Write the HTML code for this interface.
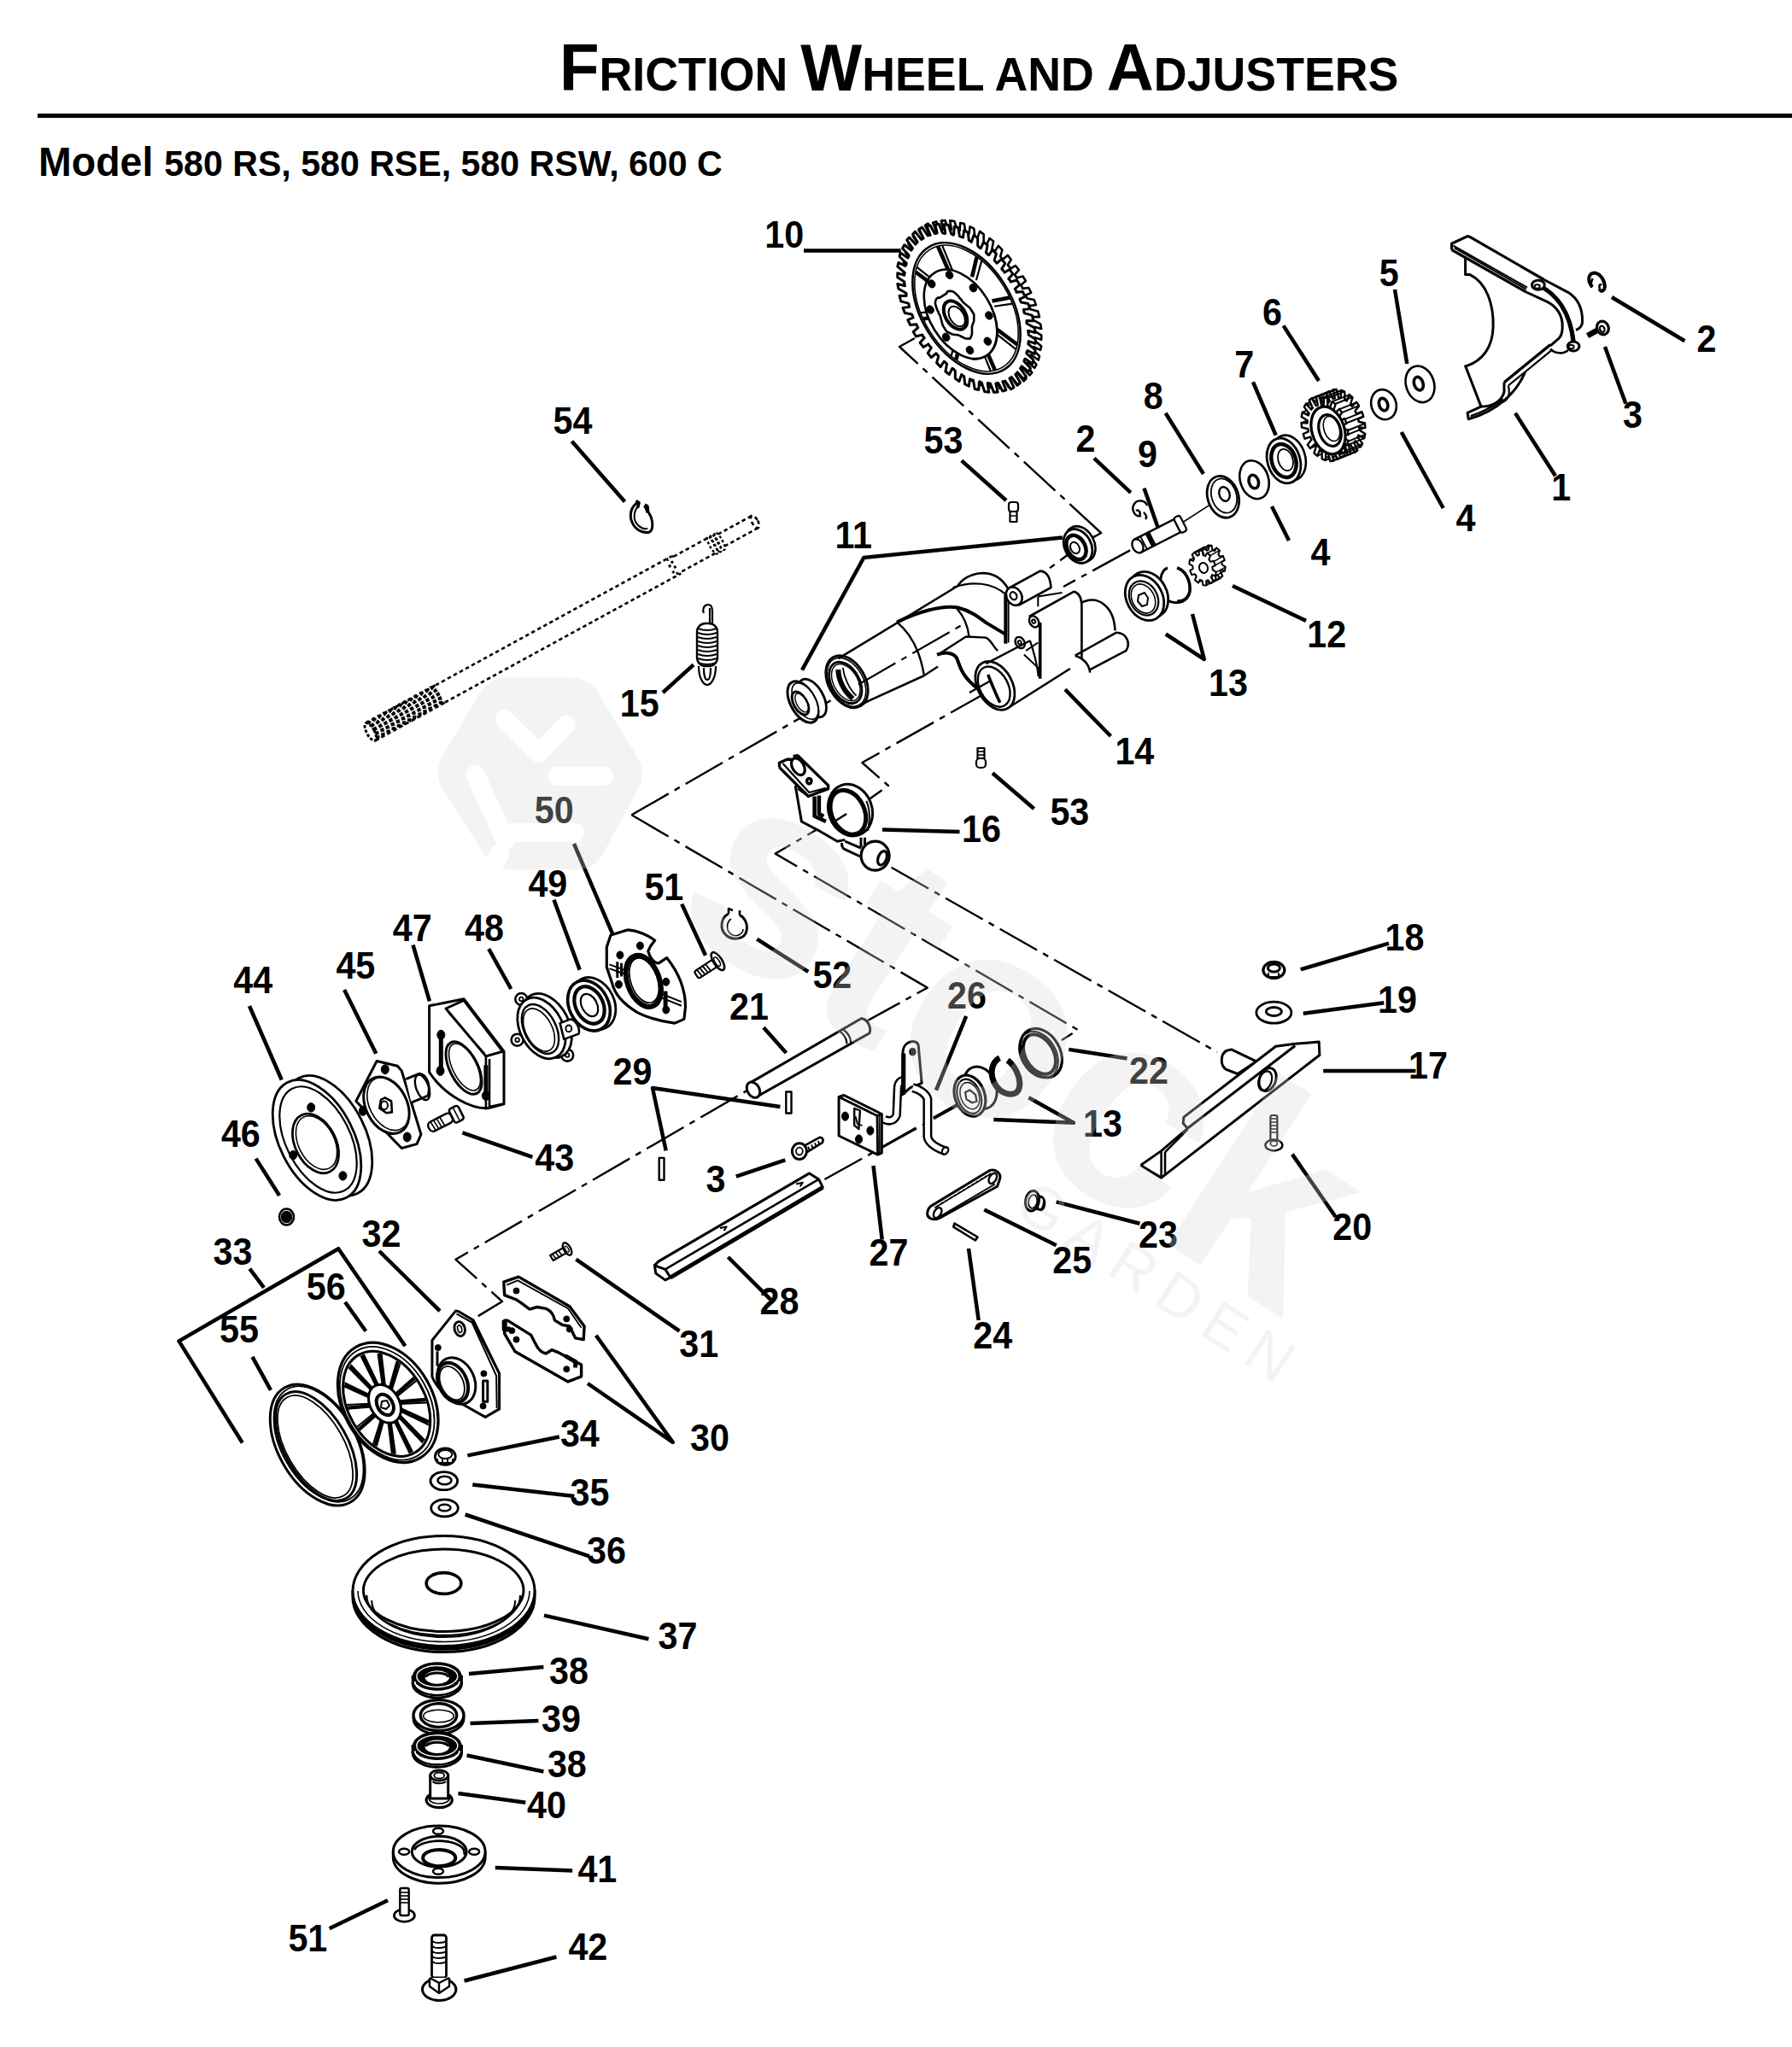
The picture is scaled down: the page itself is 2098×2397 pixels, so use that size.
<!DOCTYPE html>
<html><head><meta charset="utf-8"><style>
html,body{margin:0;padding:0;background:#fff;}
svg{display:block;}
text{stroke:none;font-family:"Liberation Sans",sans-serif;font-weight:bold;font-size:43.5px;}
.d{stroke-dasharray:50 8 7 8;}
.n *{vector-effect:non-scaling-stroke;}
</style></head><body>
<svg xmlns="http://www.w3.org/2000/svg" width="2098" height="2397" viewBox="0 0 2098 2397" stroke="#000" stroke-linecap="butt" stroke-linejoin="round" fill="none">
<rect x="0" y="0" width="2098" height="2397" fill="#fff" stroke="none"/>
<polyline class="d" points="739.4,954.3 1180.0,701.0 1262.0,641.0" stroke-width="2.4" fill="none"/>
<polyline class="d" points="1071.0,396.0 1053.0,406.0 1289.0,624.0 1278.0,630.0" stroke-width="2.4" fill="none"/>
<polyline class="d" points="739.4,954.3 1085.8,1156.6 1015.6,1195.2 533.5,1474.8 588.0,1524.0 555.0,1544.0" stroke-width="2.4" fill="none"/>
<polyline class="d" points="988.6,952.7 907.7,999.6 1262.0,1206.0 1243.0,1218.0" stroke-width="2.4" fill="none"/>
<polyline class="d" points="1043.6,1015.8 1425.0,1232.0" stroke-width="2.4" fill="none"/>
<polyline class="d" points="1156.7,810.0 1009.4,893.0 1040.0,920.0 1016.0,937.0" stroke-width="2.4" fill="none"/>
<polyline class="d" points="965.4,1381.0 1126.0,1292.0" stroke-width="2.4" fill="none"/>
<polyline class="d" points="1323.0,644.4 1245.0,687.0" stroke-width="2.4" fill="none"/>
<g class="n" transform="matrix(57.231,91.589,-57.243,35.770,1138.50,356.50)"><path d="M0.90,0.00 L0.89,0.01 L1.00,0.03 L1.00,0.09 L0.89,0.10 L0.89,0.13 L0.88,0.14 L0.98,0.17 L0.97,0.23 L0.87,0.22 L0.86,0.25 L0.86,0.26 L0.95,0.31 L0.93,0.37 L0.83,0.34 L0.81,0.37 L0.81,0.38 L0.90,0.44 L0.87,0.50 L0.77,0.46 L0.75,0.48 L0.75,0.49 L0.82,0.57 L0.79,0.62 L0.70,0.56 L0.68,0.59 L0.67,0.60 L0.73,0.68 L0.69,0.72 L0.61,0.66 L0.59,0.68 L0.58,0.68 L0.63,0.78 L0.58,0.81 L0.51,0.74 L0.48,0.75 L0.47,0.76 L0.51,0.86 L0.46,0.89 L0.40,0.80 L0.37,0.81 L0.36,0.82 L0.39,0.92 L0.33,0.94 L0.28,0.85 L0.25,0.86 L0.24,0.86 L0.25,0.97 L0.19,0.98 L0.16,0.88 L0.13,0.89 L0.11,0.89 L0.11,0.99 L0.05,1.00 L0.03,0.89 L0.00,0.90 L-0.01,0.89 L-0.03,1.00 L-0.09,1.00 L-0.10,0.89 L-0.13,0.89 L-0.14,0.88 L-0.17,0.98 L-0.23,0.97 L-0.22,0.87 L-0.25,0.86 L-0.26,0.86 L-0.31,0.95 L-0.37,0.93 L-0.34,0.83 L-0.37,0.81 L-0.38,0.81 L-0.44,0.90 L-0.50,0.87 L-0.46,0.77 L-0.48,0.75 L-0.49,0.75 L-0.57,0.82 L-0.62,0.79 L-0.56,0.70 L-0.59,0.68 L-0.60,0.67 L-0.68,0.73 L-0.72,0.69 L-0.66,0.61 L-0.68,0.59 L-0.68,0.58 L-0.78,0.63 L-0.81,0.58 L-0.74,0.51 L-0.75,0.48 L-0.76,0.47 L-0.86,0.51 L-0.89,0.46 L-0.80,0.40 L-0.81,0.37 L-0.82,0.36 L-0.92,0.39 L-0.94,0.33 L-0.85,0.28 L-0.86,0.25 L-0.86,0.24 L-0.97,0.25 L-0.98,0.19 L-0.88,0.16 L-0.89,0.13 L-0.89,0.11 L-0.99,0.11 L-1.00,0.05 L-0.89,0.03 L-0.90,0.00 L-0.89,-0.01 L-1.00,-0.03 L-1.00,-0.09 L-0.89,-0.10 L-0.89,-0.13 L-0.88,-0.14 L-0.98,-0.17 L-0.97,-0.23 L-0.87,-0.22 L-0.86,-0.25 L-0.86,-0.26 L-0.95,-0.31 L-0.93,-0.37 L-0.83,-0.34 L-0.81,-0.37 L-0.81,-0.38 L-0.90,-0.44 L-0.87,-0.50 L-0.77,-0.46 L-0.75,-0.48 L-0.75,-0.49 L-0.82,-0.57 L-0.79,-0.62 L-0.70,-0.56 L-0.68,-0.59 L-0.67,-0.60 L-0.73,-0.68 L-0.69,-0.72 L-0.61,-0.66 L-0.59,-0.68 L-0.58,-0.68 L-0.63,-0.78 L-0.58,-0.81 L-0.51,-0.74 L-0.48,-0.75 L-0.47,-0.76 L-0.51,-0.86 L-0.46,-0.89 L-0.40,-0.80 L-0.37,-0.81 L-0.36,-0.82 L-0.39,-0.92 L-0.33,-0.94 L-0.28,-0.85 L-0.25,-0.86 L-0.24,-0.86 L-0.25,-0.97 L-0.19,-0.98 L-0.16,-0.88 L-0.13,-0.89 L-0.11,-0.89 L-0.11,-0.99 L-0.05,-1.00 L-0.03,-0.89 L-0.00,-0.90 L0.01,-0.89 L0.03,-1.00 L0.09,-1.00 L0.10,-0.89 L0.13,-0.89 L0.14,-0.88 L0.17,-0.98 L0.23,-0.97 L0.22,-0.87 L0.25,-0.86 L0.26,-0.86 L0.31,-0.95 L0.37,-0.93 L0.34,-0.83 L0.37,-0.81 L0.38,-0.81 L0.44,-0.90 L0.50,-0.87 L0.46,-0.77 L0.48,-0.75 L0.49,-0.75 L0.57,-0.82 L0.62,-0.79 L0.56,-0.70 L0.59,-0.68 L0.60,-0.67 L0.68,-0.73 L0.72,-0.69 L0.66,-0.61 L0.68,-0.59 L0.68,-0.58 L0.78,-0.63 L0.81,-0.58 L0.74,-0.51 L0.75,-0.48 L0.76,-0.47 L0.86,-0.51 L0.89,-0.46 L0.80,-0.40 L0.81,-0.37 L0.82,-0.36 L0.92,-0.39 L0.94,-0.33 L0.85,-0.28 L0.86,-0.25 L0.86,-0.24 L0.97,-0.25 L0.98,-0.19 L0.88,-0.16 L0.89,-0.13 L0.89,-0.11 L0.99,-0.11 L1.00,-0.05 L0.89,-0.03 Z" stroke-width="2.6" fill="#fff"/></g>
<g class="n" transform="matrix(57.231,91.589,-57.243,35.770,1131.50,361.00)"><path d="M0.90,0.00 L0.89,0.01 L1.00,0.03 L1.00,0.09 L0.89,0.10 L0.89,0.13 L0.88,0.14 L0.98,0.17 L0.97,0.23 L0.87,0.22 L0.86,0.25 L0.86,0.26 L0.95,0.31 L0.93,0.37 L0.83,0.34 L0.81,0.37 L0.81,0.38 L0.90,0.44 L0.87,0.50 L0.77,0.46 L0.75,0.48 L0.75,0.49 L0.82,0.57 L0.79,0.62 L0.70,0.56 L0.68,0.59 L0.67,0.60 L0.73,0.68 L0.69,0.72 L0.61,0.66 L0.59,0.68 L0.58,0.68 L0.63,0.78 L0.58,0.81 L0.51,0.74 L0.48,0.75 L0.47,0.76 L0.51,0.86 L0.46,0.89 L0.40,0.80 L0.37,0.81 L0.36,0.82 L0.39,0.92 L0.33,0.94 L0.28,0.85 L0.25,0.86 L0.24,0.86 L0.25,0.97 L0.19,0.98 L0.16,0.88 L0.13,0.89 L0.11,0.89 L0.11,0.99 L0.05,1.00 L0.03,0.89 L0.00,0.90 L-0.01,0.89 L-0.03,1.00 L-0.09,1.00 L-0.10,0.89 L-0.13,0.89 L-0.14,0.88 L-0.17,0.98 L-0.23,0.97 L-0.22,0.87 L-0.25,0.86 L-0.26,0.86 L-0.31,0.95 L-0.37,0.93 L-0.34,0.83 L-0.37,0.81 L-0.38,0.81 L-0.44,0.90 L-0.50,0.87 L-0.46,0.77 L-0.48,0.75 L-0.49,0.75 L-0.57,0.82 L-0.62,0.79 L-0.56,0.70 L-0.59,0.68 L-0.60,0.67 L-0.68,0.73 L-0.72,0.69 L-0.66,0.61 L-0.68,0.59 L-0.68,0.58 L-0.78,0.63 L-0.81,0.58 L-0.74,0.51 L-0.75,0.48 L-0.76,0.47 L-0.86,0.51 L-0.89,0.46 L-0.80,0.40 L-0.81,0.37 L-0.82,0.36 L-0.92,0.39 L-0.94,0.33 L-0.85,0.28 L-0.86,0.25 L-0.86,0.24 L-0.97,0.25 L-0.98,0.19 L-0.88,0.16 L-0.89,0.13 L-0.89,0.11 L-0.99,0.11 L-1.00,0.05 L-0.89,0.03 L-0.90,0.00 L-0.89,-0.01 L-1.00,-0.03 L-1.00,-0.09 L-0.89,-0.10 L-0.89,-0.13 L-0.88,-0.14 L-0.98,-0.17 L-0.97,-0.23 L-0.87,-0.22 L-0.86,-0.25 L-0.86,-0.26 L-0.95,-0.31 L-0.93,-0.37 L-0.83,-0.34 L-0.81,-0.37 L-0.81,-0.38 L-0.90,-0.44 L-0.87,-0.50 L-0.77,-0.46 L-0.75,-0.48 L-0.75,-0.49 L-0.82,-0.57 L-0.79,-0.62 L-0.70,-0.56 L-0.68,-0.59 L-0.67,-0.60 L-0.73,-0.68 L-0.69,-0.72 L-0.61,-0.66 L-0.59,-0.68 L-0.58,-0.68 L-0.63,-0.78 L-0.58,-0.81 L-0.51,-0.74 L-0.48,-0.75 L-0.47,-0.76 L-0.51,-0.86 L-0.46,-0.89 L-0.40,-0.80 L-0.37,-0.81 L-0.36,-0.82 L-0.39,-0.92 L-0.33,-0.94 L-0.28,-0.85 L-0.25,-0.86 L-0.24,-0.86 L-0.25,-0.97 L-0.19,-0.98 L-0.16,-0.88 L-0.13,-0.89 L-0.11,-0.89 L-0.11,-0.99 L-0.05,-1.00 L-0.03,-0.89 L-0.00,-0.90 L0.01,-0.89 L0.03,-1.00 L0.09,-1.00 L0.10,-0.89 L0.13,-0.89 L0.14,-0.88 L0.17,-0.98 L0.23,-0.97 L0.22,-0.87 L0.25,-0.86 L0.26,-0.86 L0.31,-0.95 L0.37,-0.93 L0.34,-0.83 L0.37,-0.81 L0.38,-0.81 L0.44,-0.90 L0.50,-0.87 L0.46,-0.77 L0.48,-0.75 L0.49,-0.75 L0.57,-0.82 L0.62,-0.79 L0.56,-0.70 L0.59,-0.68 L0.60,-0.67 L0.68,-0.73 L0.72,-0.69 L0.66,-0.61 L0.68,-0.59 L0.68,-0.58 L0.78,-0.63 L0.81,-0.58 L0.74,-0.51 L0.75,-0.48 L0.76,-0.47 L0.86,-0.51 L0.89,-0.46 L0.80,-0.40 L0.81,-0.37 L0.82,-0.36 L0.92,-0.39 L0.94,-0.33 L0.85,-0.28 L0.86,-0.25 L0.86,-0.24 L0.97,-0.25 L0.98,-0.19 L0.88,-0.16 L0.89,-0.13 L0.89,-0.11 L0.99,-0.11 L1.00,-0.05 L0.89,-0.03 Z" stroke-width="3.0" fill="#fff"/>
<ellipse cx="0" cy="0" rx="0.78" ry="0.78" stroke-width="2.6"/>
<ellipse cx="0" cy="0" rx="0.75" ry="0.75" stroke-width="1.6"/>
<line x1="0.443" y1="0.081" x2="0.735" y2="0.150" stroke-width="4.6"/>
<line x1="0.427" y1="0.142" x2="0.717" y2="0.221" stroke-width="2.2"/>
<line x1="0.256" y1="0.370" x2="0.414" y2="0.626" stroke-width="4.6"/>
<line x1="0.202" y1="0.402" x2="0.351" y2="0.663" stroke-width="2.2"/>
<line x1="-0.081" y1="0.443" x2="-0.150" y2="0.735" stroke-width="4.6"/>
<line x1="-0.142" y1="0.427" x2="-0.221" y2="0.717" stroke-width="2.2"/>
<line x1="-0.370" y1="0.256" x2="-0.626" y2="0.414" stroke-width="4.6"/>
<line x1="-0.402" y1="0.202" x2="-0.663" y2="0.351" stroke-width="2.2"/>
<line x1="-0.443" y1="-0.081" x2="-0.735" y2="-0.150" stroke-width="4.6"/>
<line x1="-0.427" y1="-0.142" x2="-0.717" y2="-0.221" stroke-width="2.2"/>
<line x1="-0.256" y1="-0.370" x2="-0.414" y2="-0.626" stroke-width="4.6"/>
<line x1="-0.202" y1="-0.402" x2="-0.351" y2="-0.663" stroke-width="2.2"/>
<line x1="0.081" y1="-0.443" x2="0.150" y2="-0.735" stroke-width="4.6"/>
<line x1="0.142" y1="-0.427" x2="0.221" y2="-0.717" stroke-width="2.2"/>
<line x1="0.370" y1="-0.256" x2="0.626" y2="-0.414" stroke-width="4.6"/>
<line x1="0.402" y1="-0.202" x2="0.663" y2="-0.351" stroke-width="2.2"/>
</g>
<g class="n" transform="matrix(57.231,91.589,-57.243,35.770,1123.50,366.00)">
<ellipse cx="0.02" cy="0" rx="0.53" ry="0.53" stroke-width="2.6" fill="#fff"/>
<path d="M -0.1,-0.52 A 0.55 0.55 0 0 1 0.5,0.25" stroke-width="1.6"/>
<ellipse cx="0.405" cy="0.196" rx="0.045" ry="0.06" fill="#000" stroke-width="1"/>
<ellipse cx="0.148" cy="0.425" rx="0.045" ry="0.06" fill="#000" stroke-width="1"/>
<ellipse cx="-0.196" cy="0.405" rx="0.045" ry="0.06" fill="#000" stroke-width="1"/>
<ellipse cx="-0.425" cy="0.148" rx="0.045" ry="0.06" fill="#000" stroke-width="1"/>
<ellipse cx="-0.405" cy="-0.196" rx="0.045" ry="0.06" fill="#000" stroke-width="1"/>
<ellipse cx="-0.148" cy="-0.425" rx="0.045" ry="0.06" fill="#000" stroke-width="1"/>
<ellipse cx="0.196" cy="-0.405" rx="0.045" ry="0.06" fill="#000" stroke-width="1"/>
<ellipse cx="0.425" cy="-0.148" rx="0.045" ry="0.06" fill="#000" stroke-width="1"/>
</g>
<g class="n" transform="matrix(57.231,91.589,-57.243,35.770,1118.50,369.00)">
<path d="M0.30,0.00 L0.29,0.03 L0.28,0.05 L0.27,0.07 L0.25,0.09 L0.23,0.11 L0.22,0.12 L0.20,0.14 L0.19,0.16 L0.18,0.18 L0.17,0.20 L0.16,0.22 L0.14,0.24 L0.12,0.26 L0.10,0.28 L0.08,0.28 L0.05,0.28 L0.02,0.28 L0.00,0.27 L-0.02,0.26 L-0.04,0.25 L-0.06,0.24 L-0.08,0.23 L-0.11,0.23 L-0.13,0.22 L-0.15,0.22 L-0.18,0.21 L-0.20,0.20 L-0.22,0.19 L-0.24,0.17 L-0.25,0.15 L-0.26,0.12 L-0.26,0.09 L-0.25,0.07 L-0.25,0.04 L-0.25,0.02 L-0.25,0.00 L-0.25,-0.02 L-0.25,-0.04 L-0.25,-0.07 L-0.26,-0.09 L-0.26,-0.12 L-0.25,-0.15 L-0.24,-0.17 L-0.22,-0.19 L-0.20,-0.20 L-0.18,-0.21 L-0.15,-0.22 L-0.13,-0.22 L-0.11,-0.23 L-0.08,-0.23 L-0.06,-0.24 L-0.04,-0.25 L-0.02,-0.26 L-0.00,-0.27 L0.02,-0.28 L0.05,-0.28 L0.08,-0.28 L0.10,-0.28 L0.12,-0.26 L0.14,-0.24 L0.16,-0.22 L0.17,-0.20 L0.18,-0.18 L0.19,-0.16 L0.20,-0.14 L0.22,-0.12 L0.23,-0.11 L0.25,-0.09 L0.27,-0.07 L0.28,-0.05 L0.29,-0.03 Z" stroke-width="2.6" fill="#fff"/>
<ellipse cx="0" cy="0" rx="0.17" ry="0.17" stroke-width="4" fill="#fff"/>
<ellipse cx="0.02" cy="-0.01" rx="0.12" ry="0.12" stroke-width="2"/>
</g>
<path d="M 978.6,768.4 L 1123.9,684.5 C 1130.9,670.5 1163.7,661.1 1180.2,689.2 L 1217.7,668.1 C 1227.0,669.3 1229.4,677.5 1230.5,688.0 L 1257.5,692.7 C 1264.5,696.2 1265.7,700.9 1266.4,705.6 C 1285.6,696.2 1304.4,710.3 1305.5,738.4 C 1318.4,740.8 1324.3,752.5 1318.4,761.9 L 1276.2,784.1 L 1255.2,783.0 L 1182.5,827.5 L 1154.4,827.5 L 1145.0,805.2 L 1009.1,826.3 Z" stroke-width="0" fill="#fff" />
<ellipse cx="991.5" cy="798.2" rx="32.8" ry="21.6" transform="rotate(61.0 991.5 798.2)" stroke-width="2.8" fill="#fff" />
<ellipse cx="991.0" cy="798.7" rx="30.7" ry="19.7" transform="rotate(61.0 991.0 798.7)" stroke-width="1.6" fill="none" />
<ellipse cx="989.8" cy="799.4" rx="26.2" ry="16.4" transform="rotate(61.0 989.8 799.4)" stroke-width="2.8" fill="none" />
<ellipse cx="990.3" cy="799.1" rx="23.4" ry="14.1" transform="rotate(61.0 990.3 799.1)" stroke-width="1.4" fill="none" />
<path d="M 981.4,784.1 C 981.4,794.7 986.8,808.7 998.5,818.1" stroke-width="6" fill="none" />
<path d="M 986.8,781.8 C 988.0,792.3 993.8,806.4 1002.5,814.6" stroke-width="1.8" fill="none" />
<path d="M 981.4,771.2 L 1123.9,684.5" stroke-width="2.6" fill="none" />
<path d="M 1007.2,825.2 L 1081.7,791.2" stroke-width="2.6" fill="none" />
<path d="M 1081.7,791.2 L 1098.1,780.6" stroke-width="2.4" fill="none" />
<path d="M 1121.6,685.7 C 1130.9,670.5 1163.7,661.1 1180.2,689.2" stroke-width="2.6" fill="none" />
<path d="M 1115.7,688.0 C 1138.0,679.8 1161.4,682.2 1177.8,696.2" stroke-width="2.2" fill="none" />
<path d="M 1050.1,728.6 C 1072.3,717.3 1102.8,708.0 1121.6,711.5 C 1135.6,715.0 1145.0,722.0 1154.4,729.1 L 1177.8,743.1" stroke-width="4" fill="none" />
<path d="M 1050.1,728.6 C 1065.3,740.8 1077.0,761.9 1081.7,790.0" stroke-width="2.4" fill="none" />
<path d="M 1120.4,712.7 C 1128.6,722.0 1133.3,733.7 1134.5,745.5" stroke-width="2.4" fill="none" />
<path d="M 1097.0,766.6 C 1107.5,763.0 1116.9,764.2 1120.4,771.2 C 1123.9,780.6 1126.2,792.3 1145.0,806.4" stroke-width="4" fill="none" />
<path d="M 1098.1,766.6 L 1130.9,745.5 L 1154.4,746.6 C 1161.4,750.2 1163.7,759.5 1168.4,761.9" stroke-width="2.4" fill="none" />
<path d="M 1182.5,688.0 L 1217.7,668.6 C 1227.0,669.3 1229.4,677.5 1230.5,688.0 L 1191.9,709.1" stroke-width="2.6" fill="#fff" />
<ellipse cx="1187.2" cy="698.1" rx="11.2" ry="8.9" transform="rotate(61.0 1187.2 698.1)" stroke-width="2.6" fill="#fff" />
<ellipse cx="1186.5" cy="697.7" rx="4.7" ry="3.7" transform="rotate(61.0 1186.5 697.7)" stroke-width="2.2" fill="none" />
<path d="M 1177.3,696.2 L 1177.3,753.7" stroke-width="4" fill="none" />
<path d="M 1180.6,703.3 L 1180.6,752.5" stroke-width="2" fill="none" />
<path d="M 1215.3,698.6 L 1215.3,710.3" stroke-width="2" fill="none" />
<path d="M 1215.3,698.6 L 1243.4,693.9" stroke-width="2" fill="none" />
<path d="M 1204.8,722.0 L 1257.5,692.7 C 1264.5,695.1 1265.7,700.9 1266.4,708.0 L 1266.4,771.2" stroke-width="2.6" fill="none" />
<path d="M 1217.7,729.1 L 1217.7,794.7" stroke-width="3.6" fill="none" />
<ellipse cx="1210.6" cy="727.9" rx="7.0" ry="5.2" transform="rotate(61.0 1210.6 727.9)" stroke-width="2.4" fill="#fff" />
<ellipse cx="1210.2" cy="727.7" rx="2.3" ry="1.9" transform="rotate(61.0 1210.2 727.7)" stroke-width="2" fill="none" />
<ellipse cx="1194.2" cy="752.5" rx="7.0" ry="5.2" transform="rotate(61.0 1194.2 752.5)" stroke-width="2.4" fill="#fff" />
<ellipse cx="1193.7" cy="752.3" rx="2.3" ry="1.9" transform="rotate(61.0 1193.7 752.3)" stroke-width="2" fill="none" />
<path d="M 1201.2,761.9 L 1215.3,752.5" stroke-width="2" fill="none" />
<path d="M 1198.9,766.6 L 1216.5,783.0" stroke-width="2" fill="none" />
<path d="M 1266.4,705.6 C 1285.6,696.2 1304.4,710.3 1305.5,738.4" stroke-width="2.6" fill="none" />
<path d="M 1258.7,767.7 L 1306.7,740.8 C 1318.4,740.8 1324.3,752.5 1318.4,761.9 L 1276.2,784.1" stroke-width="2.6" fill="none" />
<path d="M 1258.7,767.7 C 1269.2,771.2 1275.1,778.3 1276.2,787.7" stroke-width="2.6" fill="none" />
<path d="M 1252.8,783.0 L 1182.5,827.5" stroke-width="2.6" fill="none" />
<ellipse cx="1164.9" cy="802.9" rx="30.5" ry="20.2" transform="rotate(61.0 1164.9 802.9)" stroke-width="2.8" fill="#fff" />
<ellipse cx="1163.7" cy="804.1" rx="25.3" ry="16.4" transform="rotate(61.0 1163.7 804.1)" stroke-width="2.4" fill="none" />
<path d="M 1156.7,790.0 C 1161.4,801.7 1166.1,813.4 1170.8,822.8" stroke-width="3.5" fill="none" />
<path d="M 1154.4,777.1 L 1205.9,750.2" stroke-width="2.4" fill="none" />
<path d="M 1205.9,750.2 C 1210.6,764.2 1214.1,775.9 1215.8,792.3" stroke-width="2.2" fill="none" />
<polyline class="d" points="1005.0,801.5 1125.0,732.5" stroke-width="2.2" fill="none"/>
<polyline class="d" points="1135.0,811.0 1160.0,797.0" stroke-width="2.2" fill="none"/>
<line x1="1382.6" y1="613.0" x2="1418.0" y2="590.1" stroke-width="1.6"/>
<ellipse cx="1662.5" cy="449.8" rx="21.7" ry="16.4" transform="rotate(72.0 1662.5 449.8)" stroke-width="2.6" fill="#fff" />
<ellipse cx="1660.8" cy="449.2" rx="8.0" ry="5.2" transform="rotate(72.0 1660.8 449.2)" stroke-width="3.6" fill="#fff" />
<ellipse cx="1620.0" cy="473.7" rx="17.8" ry="14.5" transform="rotate(72.0 1620.0 473.7)" stroke-width="2.6" fill="#fff" />
<ellipse cx="1619.6" cy="473.6" rx="7.4" ry="5.0" transform="rotate(72.0 1619.6 473.6)" stroke-width="3.6" fill="#fff" />
<g class="n" transform="matrix(12.052,37.091,-24.727,8.034,1571.00,494.00)"><path d="M0.74,0.00 L0.74,0.03 L1.00,0.08 L0.98,0.22 L0.71,0.19 L0.70,0.25 L0.69,0.28 L0.91,0.41 L0.84,0.54 L0.60,0.43 L0.57,0.48 L0.55,0.50 L0.71,0.70 L0.60,0.80 L0.42,0.61 L0.37,0.64 L0.35,0.65 L0.43,0.90 L0.30,0.96 L0.19,0.72 L0.13,0.73 L0.10,0.73 L0.10,1.00 L-0.05,1.00 L-0.07,0.74 L-0.13,0.73 L-0.15,0.72 L-0.25,0.97 L-0.39,0.92 L-0.32,0.67 L-0.37,0.64 L-0.39,0.63 L-0.56,0.83 L-0.68,0.73 L-0.53,0.52 L-0.57,0.48 L-0.58,0.46 L-0.81,0.58 L-0.89,0.46 L-0.67,0.31 L-0.70,0.25 L-0.70,0.23 L-0.96,0.27 L-0.99,0.13 L-0.74,0.06 L-0.74,0.00 L-0.74,-0.03 L-1.00,-0.08 L-0.98,-0.22 L-0.71,-0.19 L-0.70,-0.25 L-0.69,-0.28 L-0.91,-0.41 L-0.84,-0.54 L-0.60,-0.43 L-0.57,-0.48 L-0.55,-0.50 L-0.71,-0.70 L-0.60,-0.80 L-0.42,-0.61 L-0.37,-0.64 L-0.35,-0.65 L-0.43,-0.90 L-0.30,-0.96 L-0.19,-0.72 L-0.13,-0.73 L-0.10,-0.73 L-0.10,-1.00 L0.05,-1.00 L0.07,-0.74 L0.13,-0.73 L0.15,-0.72 L0.25,-0.97 L0.39,-0.92 L0.32,-0.67 L0.37,-0.64 L0.39,-0.63 L0.56,-0.83 L0.68,-0.73 L0.53,-0.52 L0.57,-0.48 L0.58,-0.46 L0.81,-0.58 L0.89,-0.46 L0.67,-0.31 L0.70,-0.25 L0.70,-0.23 L0.96,-0.27 L0.99,-0.13 L0.74,-0.06 Z" stroke-width="2.4" fill="#fff"/></g>
<line x1="1560.8" y1="539.7" x2="1580.8" y2="531.7" stroke-width="1.9"/>
<line x1="1557.5" y1="540.0" x2="1577.5" y2="532.0" stroke-width="1.9"/>
<line x1="1551.4" y1="539.0" x2="1571.4" y2="531.0" stroke-width="1.9"/>
<line x1="1547.9" y1="537.6" x2="1567.9" y2="529.6" stroke-width="1.9"/>
<line x1="1541.9" y1="533.8" x2="1561.9" y2="525.8" stroke-width="1.9"/>
<line x1="1538.8" y1="531.0" x2="1558.8" y2="523.0" stroke-width="1.9"/>
<line x1="1533.6" y1="524.9" x2="1553.6" y2="516.9" stroke-width="1.9"/>
<line x1="1531.1" y1="520.9" x2="1551.1" y2="512.9" stroke-width="1.9"/>
<line x1="1527.4" y1="513.1" x2="1547.4" y2="505.1" stroke-width="1.9"/>
<line x1="1525.8" y1="508.5" x2="1545.8" y2="500.5" stroke-width="1.9"/>
<line x1="1524.0" y1="500.0" x2="1544.0" y2="492.0" stroke-width="1.9"/>
<line x1="1523.5" y1="495.3" x2="1543.5" y2="487.3" stroke-width="1.9"/>
<line x1="1523.8" y1="487.2" x2="1543.8" y2="479.2" stroke-width="1.9"/>
<line x1="1524.6" y1="482.9" x2="1544.6" y2="474.9" stroke-width="1.9"/>
<line x1="1527.0" y1="476.1" x2="1547.0" y2="468.1" stroke-width="1.9"/>
<line x1="1528.9" y1="472.9" x2="1548.9" y2="464.9" stroke-width="1.9"/>
<line x1="1533.0" y1="468.2" x2="1553.0" y2="460.2" stroke-width="1.9"/>
<line x1="1535.8" y1="466.3" x2="1555.8" y2="458.3" stroke-width="1.9"/>
<line x1="1541.2" y1="464.3" x2="1561.2" y2="456.3" stroke-width="1.9"/>
<line x1="1544.5" y1="464.0" x2="1564.5" y2="456.0" stroke-width="1.9"/>
<line x1="1550.6" y1="465.0" x2="1570.6" y2="457.0" stroke-width="1.9"/>
<line x1="1554.1" y1="466.4" x2="1574.1" y2="458.4" stroke-width="1.9"/>
<line x1="1560.1" y1="470.2" x2="1580.1" y2="462.2" stroke-width="1.9"/>
<line x1="1563.2" y1="473.0" x2="1583.2" y2="465.0" stroke-width="1.9"/>
<line x1="1568.4" y1="479.1" x2="1588.4" y2="471.1" stroke-width="1.9"/>
<line x1="1570.9" y1="483.1" x2="1590.9" y2="475.1" stroke-width="1.9"/>
<line x1="1574.6" y1="490.9" x2="1594.6" y2="482.9" stroke-width="1.9"/>
<line x1="1576.2" y1="495.5" x2="1596.2" y2="487.5" stroke-width="1.9"/>
<line x1="1578.0" y1="504.0" x2="1598.0" y2="496.0" stroke-width="1.9"/>
<line x1="1578.5" y1="508.7" x2="1598.5" y2="500.7" stroke-width="1.9"/>
<line x1="1578.2" y1="516.8" x2="1598.2" y2="508.8" stroke-width="1.9"/>
<line x1="1577.4" y1="521.1" x2="1597.4" y2="513.1" stroke-width="1.9"/>
<line x1="1575.0" y1="527.9" x2="1595.0" y2="519.9" stroke-width="1.9"/>
<line x1="1573.1" y1="531.1" x2="1593.1" y2="523.1" stroke-width="1.9"/>
<line x1="1569.0" y1="535.8" x2="1589.0" y2="527.8" stroke-width="1.9"/>
<line x1="1566.2" y1="537.7" x2="1586.2" y2="529.7" stroke-width="1.9"/>
<g class="n" transform="matrix(12.052,37.091,-24.727,8.034,1551.00,502.00)"><path d="M0.74,0.00 L0.74,0.03 L1.00,0.08 L0.98,0.22 L0.71,0.19 L0.70,0.25 L0.69,0.28 L0.91,0.41 L0.84,0.54 L0.60,0.43 L0.57,0.48 L0.55,0.50 L0.71,0.70 L0.60,0.80 L0.42,0.61 L0.37,0.64 L0.35,0.65 L0.43,0.90 L0.30,0.96 L0.19,0.72 L0.13,0.73 L0.10,0.73 L0.10,1.00 L-0.05,1.00 L-0.07,0.74 L-0.13,0.73 L-0.15,0.72 L-0.25,0.97 L-0.39,0.92 L-0.32,0.67 L-0.37,0.64 L-0.39,0.63 L-0.56,0.83 L-0.68,0.73 L-0.53,0.52 L-0.57,0.48 L-0.58,0.46 L-0.81,0.58 L-0.89,0.46 L-0.67,0.31 L-0.70,0.25 L-0.70,0.23 L-0.96,0.27 L-0.99,0.13 L-0.74,0.06 L-0.74,0.00 L-0.74,-0.03 L-1.00,-0.08 L-0.98,-0.22 L-0.71,-0.19 L-0.70,-0.25 L-0.69,-0.28 L-0.91,-0.41 L-0.84,-0.54 L-0.60,-0.43 L-0.57,-0.48 L-0.55,-0.50 L-0.71,-0.70 L-0.60,-0.80 L-0.42,-0.61 L-0.37,-0.64 L-0.35,-0.65 L-0.43,-0.90 L-0.30,-0.96 L-0.19,-0.72 L-0.13,-0.73 L-0.10,-0.73 L-0.10,-1.00 L0.05,-1.00 L0.07,-0.74 L0.13,-0.73 L0.15,-0.72 L0.25,-0.97 L0.39,-0.92 L0.32,-0.67 L0.37,-0.64 L0.39,-0.63 L0.56,-0.83 L0.68,-0.73 L0.53,-0.52 L0.57,-0.48 L0.58,-0.46 L0.81,-0.58 L0.89,-0.46 L0.67,-0.31 L0.70,-0.25 L0.70,-0.23 L0.96,-0.27 L0.99,-0.13 L0.74,-0.06 Z" stroke-width="2.4" fill="#fff"/></g>
<ellipse cx="1555.0" cy="504.0" rx="28.5" ry="19.0" transform="rotate(72.0 1555.0 504.0)" stroke-width="3.2" fill="#fff" />
<ellipse cx="1557.0" cy="504.0" rx="19.0" ry="12.5" transform="rotate(72.0 1557.0 504.0)" stroke-width="3.2" fill="#fff" />
<ellipse cx="1559.0" cy="502.0" rx="15.0" ry="9.0" transform="rotate(72.0 1559.0 502.0)" stroke-width="1.6" fill="none" />
<ellipse cx="1509.0" cy="536.0" rx="27.0" ry="19.0" transform="rotate(72.0 1509.0 536.0)" stroke-width="2.6" fill="#fff" />
<ellipse cx="1503.0" cy="539.5" rx="27.0" ry="19.0" transform="rotate(72.0 1503.0 539.5)" stroke-width="2.8" fill="#fff" />
<ellipse cx="1503.0" cy="539.5" rx="20.0" ry="14.0" transform="rotate(72.0 1503.0 539.5)" stroke-width="4.5" fill="#fff" />
<ellipse cx="1505.0" cy="538.5" rx="13.0" ry="8.5" transform="rotate(72.0 1505.0 538.5)" stroke-width="1.8" fill="#fff" />
<ellipse cx="1468.5" cy="561.7" rx="23.0" ry="16.5" transform="rotate(72.0 1468.5 561.7)" stroke-width="2.6" fill="#fff" />
<ellipse cx="1467.8" cy="564.0" rx="8.0" ry="5.5" transform="rotate(72.0 1467.8 564.0)" stroke-width="3.6" fill="#fff" />
<ellipse cx="1431.9" cy="581.8" rx="25.0" ry="18.0" transform="rotate(72.0 1431.9 581.8)" stroke-width="2.8" fill="#fff" />
<ellipse cx="1433.0" cy="580.5" rx="20.5" ry="14.5" transform="rotate(72.0 1433.0 580.5)" stroke-width="1.8" fill="#fff" />
<ellipse cx="1433.5" cy="578.5" rx="8.5" ry="6.0" transform="rotate(72.0 1433.5 578.5)" stroke-width="2.4" fill="#fff" />
<g transform="translate(1356,627) rotate(-27)">
<rect x="-27" y="-8.5" width="52" height="17" stroke-width="2.4" fill="#fff"/>
<rect x="-13" y="-8.5" width="6" height="17" stroke-width="0" fill="#000"/>
<line x1="-19" y1="-8.5" x2="-19" y2="8.5" stroke-width="1.8"/>
<rect x="25" y="-10" width="8" height="20" rx="3" stroke-width="2.2" fill="#fff"/>
<ellipse cx="-27" cy="0" rx="6" ry="8.5" stroke-width="2.4" fill="#fff"/>
</g>
<path d="M1336,604 C1328,606 1324,596 1328,590 C1332,584 1341,586 1343,592 M1330,598 C1333,596 1336,600 1334,603 M1339,600 C1342,603 1343,606 1341,608" stroke-width="2.4" fill="none" />
<ellipse cx="1265.0" cy="637.0" rx="22.0" ry="16.0" transform="rotate(62.0 1265.0 637.0)" stroke-width="2.6" fill="#fff" />
<ellipse cx="1262.0" cy="639.5" rx="21.0" ry="15.5" transform="rotate(62.0 1262.0 639.5)" stroke-width="2.8" fill="#fff" />
<ellipse cx="1260.0" cy="641.0" rx="15.0" ry="10.5" transform="rotate(62.0 1260.0 641.0)" stroke-width="4.5" fill="#fff" />
<ellipse cx="1258.5" cy="641.5" rx="7.0" ry="5.0" transform="rotate(62.0 1258.5 641.5)" stroke-width="2" fill="#fff" />
<g transform="translate(1186.5,600)">
<rect x="-5.5" y="-12" width="11" height="11" rx="3" stroke-width="2.2" fill="#fff"/>
<rect x="-4" y="-1" width="8" height="12" stroke-width="2.2" fill="#fff"/>
<line x1="-4" y1="4" x2="4" y2="4" stroke-width="1.5"/>
</g>
<g class="n" transform="matrix(6.489,19.972,-14.266,4.635,1419.00,659.00)"><path d="M0.75,0.00 L0.75,0.05 L0.99,0.14 L0.92,0.39 L0.67,0.34 L0.61,0.44 L0.58,0.48 L0.72,0.69 L0.51,0.86 L0.34,0.67 L0.23,0.71 L0.19,0.73 L0.18,0.98 L-0.09,1.00 L-0.12,0.74 L-0.23,0.71 L-0.28,0.70 L-0.44,0.90 L-0.66,0.75 L-0.53,0.53 L-0.61,0.44 L-0.63,0.40 L-0.88,0.47 L-0.97,0.22 L-0.74,0.11 L-0.75,0.00 L-0.75,-0.05 L-0.99,-0.14 L-0.92,-0.39 L-0.67,-0.34 L-0.61,-0.44 L-0.58,-0.48 L-0.72,-0.69 L-0.51,-0.86 L-0.34,-0.67 L-0.23,-0.71 L-0.19,-0.73 L-0.18,-0.98 L0.09,-1.00 L0.12,-0.74 L0.23,-0.71 L0.28,-0.70 L0.44,-0.90 L0.66,-0.75 L0.53,-0.53 L0.61,-0.44 L0.63,-0.40 L0.88,-0.47 L0.97,-0.22 L0.74,-0.11 Z" stroke-width="2.0" fill="#fff"/></g>
<line x1="1412.1" y1="685.5" x2="1423.1" y2="679.5" stroke-width="1.6"/>
<line x1="1408.6" y1="685.2" x2="1419.6" y2="679.2" stroke-width="1.6"/>
<line x1="1402.4" y1="682.3" x2="1413.4" y2="676.3" stroke-width="1.6"/>
<line x1="1399.3" y1="679.4" x2="1410.3" y2="673.4" stroke-width="1.6"/>
<line x1="1394.9" y1="672.6" x2="1405.9" y2="666.6" stroke-width="1.6"/>
<line x1="1393.3" y1="668.1" x2="1404.3" y2="662.1" stroke-width="1.6"/>
<line x1="1392.3" y1="659.9" x2="1403.3" y2="653.9" stroke-width="1.6"/>
<line x1="1392.9" y1="655.6" x2="1403.9" y2="649.6" stroke-width="1.6"/>
<line x1="1395.8" y1="649.2" x2="1406.8" y2="643.2" stroke-width="1.6"/>
<line x1="1398.3" y1="646.7" x2="1409.3" y2="640.7" stroke-width="1.6"/>
<line x1="1403.9" y1="644.5" x2="1414.9" y2="638.5" stroke-width="1.6"/>
<line x1="1407.4" y1="644.8" x2="1418.4" y2="638.8" stroke-width="1.6"/>
<line x1="1413.6" y1="647.7" x2="1424.6" y2="641.7" stroke-width="1.6"/>
<line x1="1416.7" y1="650.6" x2="1427.7" y2="644.6" stroke-width="1.6"/>
<line x1="1421.1" y1="657.4" x2="1432.1" y2="651.4" stroke-width="1.6"/>
<line x1="1422.7" y1="661.9" x2="1433.7" y2="655.9" stroke-width="1.6"/>
<line x1="1423.7" y1="670.1" x2="1434.7" y2="664.1" stroke-width="1.6"/>
<line x1="1423.1" y1="674.4" x2="1434.1" y2="668.4" stroke-width="1.6"/>
<line x1="1420.2" y1="680.8" x2="1431.2" y2="674.8" stroke-width="1.6"/>
<line x1="1417.7" y1="683.3" x2="1428.7" y2="677.3" stroke-width="1.6"/>
<g class="n" transform="matrix(6.489,19.972,-14.266,4.635,1408.00,665.00)"><path d="M0.75,0.00 L0.75,0.05 L0.99,0.14 L0.92,0.39 L0.67,0.34 L0.61,0.44 L0.58,0.48 L0.72,0.69 L0.51,0.86 L0.34,0.67 L0.23,0.71 L0.19,0.73 L0.18,0.98 L-0.09,1.00 L-0.12,0.74 L-0.23,0.71 L-0.28,0.70 L-0.44,0.90 L-0.66,0.75 L-0.53,0.53 L-0.61,0.44 L-0.63,0.40 L-0.88,0.47 L-0.97,0.22 L-0.74,0.11 L-0.75,0.00 L-0.75,-0.05 L-0.99,-0.14 L-0.92,-0.39 L-0.67,-0.34 L-0.61,-0.44 L-0.58,-0.48 L-0.72,-0.69 L-0.51,-0.86 L-0.34,-0.67 L-0.23,-0.71 L-0.19,-0.73 L-0.18,-0.98 L0.09,-1.00 L0.12,-0.74 L0.23,-0.71 L0.28,-0.70 L0.44,-0.90 L0.66,-0.75 L0.53,-0.53 L0.61,-0.44 L0.63,-0.40 L0.88,-0.47 L0.97,-0.22 L0.74,-0.11 Z" stroke-width="2.0" fill="#fff"/></g>
<ellipse cx="1409.0" cy="665.0" rx="6.0" ry="5.0" transform="rotate(72.0 1409.0 665.0)" stroke-width="2" fill="none" />
<path d="M1367,665 C1358,668 1356,685 1362,697 C1368,708 1383,708 1390,700" stroke-width="3.0" fill="none" />
<path d="M1378,665 C1388,668 1394,680 1393,692 C1392,700 1385,705 1378,704" stroke-width="3.6" fill="none" />
<ellipse cx="1345.0" cy="696.0" rx="28.0" ry="21.0" transform="rotate(62.0 1345.0 696.0)" stroke-width="2.8" fill="#fff" />
<ellipse cx="1340.0" cy="700.0" rx="28.0" ry="21.0" transform="rotate(62.0 1340.0 700.0)" stroke-width="2.8" fill="#fff" />
<ellipse cx="1339.0" cy="700.5" rx="21.0" ry="16.0" transform="rotate(62.0 1339.0 700.5)" stroke-width="2.2" fill="#fff" />
<ellipse cx="1338.5" cy="701.0" rx="18.0" ry="13.0" transform="rotate(62.0 1338.5 701.0)" stroke-width="1.6" fill="#fff" />
<path d="M1333,697 L1340,694 L1344,700 L1343,708 L1337,710 L1332,704 Z" stroke-width="2" fill="none" />
<ellipse cx="951.0" cy="817.5" rx="24.5" ry="13.0" transform="rotate(61.0 951.0 817.5)" stroke-width="2.8" fill="#fff" />
<ellipse cx="940.0" cy="822.0" rx="26.5" ry="14.5" transform="rotate(61.0 940.0 822.0)" stroke-width="3.0" fill="#fff" />
<ellipse cx="942.5" cy="821.0" rx="23.5" ry="12.0" transform="rotate(61.0 942.5 821.0)" stroke-width="1.6" fill="#fff" />
<ellipse cx="937.0" cy="823.5" rx="14.8" ry="7.7" transform="rotate(61.0 937.0 823.5)" stroke-width="3.0" fill="#fff" />
<ellipse cx="938.5" cy="823.0" rx="12.0" ry="5.8" transform="rotate(61.0 938.5 823.0)" stroke-width="1.4" fill="#fff" />
<line x1="1290" y1="623.5" x2="1279.5" y2="629.5" stroke-width="2.4"/>
<path d="M 1699.6,285.2 L 1718.1,276.6 L 1721.7,277.8 L 1807.7,327.5 L 1835.9,342.3 C 1849.4,350.9 1853.1,364.4 1852.5,377.9 C 1851.9,382.8 1848.2,385.2 1845.1,386.5 L 1844.5,401.2 L 1815.1,411.0 L 1785.6,435.6 C 1778.2,456.4 1753.7,481.0 1720.5,490.2 L 1718.1,483.4 L 1734.0,476.1 L 1716.2,429.4 L 1718.1,428.2 C 1735.2,422.1 1747.5,407.3 1748.1,382.8 C 1748.8,358.2 1741.4,331.2 1720.5,321.4 L 1715.6,321.4 L 1715.6,301.7 L 1699.6,292.5 Z" stroke-width="0" fill="#fff" />
<path d="M 1699.6,292.5 L 1699.6,285.2 L 1718.1,276.6 L 1721.7,277.8 L 1807.7,327.5" stroke-width="3.2" fill="none" />
<path d="M 1701.5,287.6 L 1788.0,336.7" stroke-width="2.0" fill="none" />
<path d="M 1702.7,290.1 L 1786.8,338.6" stroke-width="2.0" fill="none" />
<path d="M 1699.6,292.5 L 1786.8,342.0" stroke-width="3.2" fill="none" />
<path d="M 1715.6,301.7 L 1715.6,321.4 L 1720.5,321.4 C 1741.4,331.2 1748.8,358.2 1748.1,382.8 C 1747.5,407.3 1735.2,422.1 1718.1,428.2 L 1715.6,428.8 L 1716.2,430.0 L 1734.0,476.1" stroke-width="3.0" fill="none" />
<path d="M 1734.0,476.1 L 1718.1,483.4 L 1719.3,490.8 C 1753.7,481.0 1775.8,458.9 1785.6,435.6" stroke-width="3.0" fill="none" />
<path d="M 1721.7,487.1 C 1741.4,481.0 1753.7,471.2 1759.8,467.5" stroke-width="2.4" fill="none" />
<path d="M 1761.0,447.8 L 1815.1,403.6" stroke-width="3.4" fill="none" />
<path d="M 1765.9,451.5 L 1816.3,410.4" stroke-width="2.2" fill="none" />
<path d="M 1761.0,447.8 L 1761.0,458.9 C 1758.6,468.7 1748.8,476.1 1734.0,476.1" stroke-width="3.0" fill="none" />
<path d="M 1765.9,451.5 C 1768.4,462.6 1765.9,468.7 1758.6,471.2" stroke-width="2.2" fill="none" />
<path d="M 1786.8,342.0 L 1811.4,353.3 C 1821.2,358.2 1829.8,368.0 1829.2,382.8 C 1829.2,390.1 1827.9,393.8 1824.9,396.3 L 1815.1,404.9" stroke-width="3.0" fill="none" />
<path d="M 1807.7,327.5 L 1835.9,342.3 C 1849.4,350.9 1853.1,364.4 1852.5,377.9 C 1851.9,382.8 1848.2,385.2 1845.1,386.5" stroke-width="3.0" fill="none" />
<path d="M 1802.8,334.9 C 1821.2,343.5 1838.4,364.4 1842.1,401.2" stroke-width="5.0" fill="none" />
<path d="M 1807.7,338.6 C 1824.9,347.2 1839.6,365.6 1843.9,401.2" stroke-width="2.0" fill="none" />
<path d="M 1815.1,408.6 C 1821.2,414.7 1831.0,414.7 1835.9,409.8" stroke-width="2.6" fill="none" />
<ellipse cx="1842.1" cy="405.5" rx="6.8" ry="5.5" transform="rotate(0.0 1842.1 405.5)" stroke-width="3.0" fill="#fff" />
<ellipse cx="1839.6" cy="406.1" rx="3.1" ry="2.2" transform="rotate(0.0 1839.6 406.1)" stroke-width="2.0" fill="none" />
<ellipse cx="1800.9" cy="333.7" rx="7.4" ry="5.5" transform="rotate(0.0 1800.9 333.7)" stroke-width="3.0" fill="#fff" />
<ellipse cx="1799.7" cy="335.5" rx="3.1" ry="2.2" transform="rotate(0.0 1799.7 335.5)" stroke-width="2.0" fill="none" />
<path d="M 1864.2,336.1 C 1858.0,328.8 1859.3,320.2 1866.6,319.5 C 1874.0,320.2 1878.9,328.8 1878.9,336.1 C 1878.3,341.0 1874.0,342.3 1872.8,338.6" stroke-width="4.0" fill="none" />
<path d="M 1864.2,336.1 C 1861.7,333.7 1862.9,328.8 1864.8,326.3 M 1872.8,338.6 C 1871.5,333.7 1873.4,332.4 1875.2,333.7" stroke-width="2.6" fill="none" />
<path d="M 1858.6,393.2 L 1872.1,385.6" stroke-width="6.5" fill="none" />
<ellipse cx="1876.4" cy="384.0" rx="6.8" ry="8.0" transform="rotate(-20.0 1876.4 384.0)" stroke-width="3.2" fill="#fff" />
<ellipse cx="1875.8" cy="385.2" rx="2.7" ry="3.7" transform="rotate(-20.0 1875.8 385.2)" stroke-width="2.2" fill="none" />
<line x1="509.9" y1="802.4" x2="786.3" y2="651.3" stroke-width="2.6" stroke-dasharray="4.5 3.5"/>
<line x1="520.9" y1="822.5" x2="797.3" y2="671.5" stroke-width="2.6" stroke-dasharray="4.5 3.5"/>
<line x1="786.3" y1="651.3" x2="788.7" y2="651.7" stroke-width="2.6" stroke-dasharray="4.5 3.5"/>
<line x1="788.7" y1="651.7" x2="832.6" y2="627.7" stroke-width="2.6" stroke-dasharray="4.5 3.5"/>
<line x1="798.3" y1="669.2" x2="842.2" y2="645.2" stroke-width="2.6" stroke-dasharray="4.5 3.5"/>
<line x1="840.6" y1="625.6" x2="880.1" y2="604.0" stroke-width="2.6" stroke-dasharray="4.5 3.5"/>
<line x1="848.3" y1="639.6" x2="887.8" y2="618.1" stroke-width="2.6" stroke-dasharray="4.5 3.5"/>
<ellipse cx="883.9" cy="611.0" rx="3.5" ry="8" transform="rotate(-28.7 883.9 611.0)" stroke-width="2.6" stroke-dasharray="4.5 3.5"/>
<ellipse cx="787.4" cy="663.8" rx="2.5" ry="11" transform="rotate(-28.7 787.4 663.8)" stroke-width="3" stroke-dasharray="3 5"/>
<ellipse cx="833.9" cy="638.4" rx="3" ry="11.5" transform="rotate(-28.7 833.9 638.4)" stroke-width="2.4" stroke-dasharray="3 2.5"/>
<ellipse cx="838.3" cy="636.0" rx="3" ry="11.5" transform="rotate(-28.7 838.3 636.0)" stroke-width="2.4" stroke-dasharray="3 2.5"/>
<ellipse cx="842.7" cy="633.6" rx="3" ry="11.5" transform="rotate(-28.7 842.7 633.6)" stroke-width="2.4" stroke-dasharray="3 2.5"/>
<path d="M 0,-11.5 A 4.5 11.5 0 0 1 0,11.5" transform="translate(435.5,856.1) rotate(-28.7)" stroke-width="4.4" stroke-dasharray="4 1.2"/>
<path d="M 0,-11.5 A 4.5 11.5 0 0 1 0,11.5" transform="translate(441.7,852.7) rotate(-28.7)" stroke-width="4.4" stroke-dasharray="4 1.2"/>
<path d="M 0,-11.5 A 4.5 11.5 0 0 1 0,11.5" transform="translate(447.8,849.4) rotate(-28.7)" stroke-width="4.4" stroke-dasharray="4 1.2"/>
<path d="M 0,-11.5 A 4.5 11.5 0 0 1 0,11.5" transform="translate(453.9,846.0) rotate(-28.7)" stroke-width="4.4" stroke-dasharray="4 1.2"/>
<path d="M 0,-11.5 A 4.5 11.5 0 0 1 0,11.5" transform="translate(460.1,842.7) rotate(-28.7)" stroke-width="4.4" stroke-dasharray="4 1.2"/>
<path d="M 0,-11.5 A 4.5 11.5 0 0 1 0,11.5" transform="translate(466.2,839.3) rotate(-28.7)" stroke-width="4.4" stroke-dasharray="4 1.2"/>
<path d="M 0,-11.5 A 4.5 11.5 0 0 1 0,11.5" transform="translate(472.4,835.9) rotate(-28.7)" stroke-width="4.4" stroke-dasharray="4 1.2"/>
<path d="M 0,-11.5 A 4.5 11.5 0 0 1 0,11.5" transform="translate(478.5,832.6) rotate(-28.7)" stroke-width="4.4" stroke-dasharray="4 1.2"/>
<path d="M 0,-11.5 A 4.5 11.5 0 0 1 0,11.5" transform="translate(484.7,829.2) rotate(-28.7)" stroke-width="4.4" stroke-dasharray="4 1.2"/>
<path d="M 0,-11.5 A 4.5 11.5 0 0 1 0,11.5" transform="translate(490.8,825.9) rotate(-28.7)" stroke-width="4.4" stroke-dasharray="4 1.2"/>
<path d="M 0,-11.5 A 4.5 11.5 0 0 1 0,11.5" transform="translate(496.9,822.5) rotate(-28.7)" stroke-width="4.4" stroke-dasharray="4 1.2"/>
<path d="M 0,-11.5 A 4.5 11.5 0 0 1 0,11.5" transform="translate(503.1,819.2) rotate(-28.7)" stroke-width="4.4" stroke-dasharray="4 1.2"/>
<path d="M 0,-11.5 A 4.5 11.5 0 0 1 0,11.5" transform="translate(509.2,815.8) rotate(-28.7)" stroke-width="4.4" stroke-dasharray="4 1.2"/>
<ellipse cx="433.8" cy="857.0" rx="4.5" ry="11.5" transform="rotate(-28.7 433.8 857.0)" stroke-width="3" stroke-dasharray="3.5 2"/>
<line x1="428.2" y1="846.9" x2="509.9" y2="802.4" stroke-width="3" stroke-dasharray="4.5 3.5"/>
<line x1="439.3" y1="867.1" x2="520.9" y2="822.5" stroke-width="3" stroke-dasharray="4.5 3.5"/>
<path d="M 745.9,588.7 C 740.1,593.1 737.2,598.9 738.7,607.6 C 741.6,619.2 750.3,623.5 759.0,623.5 C 764.8,622.1 764.8,611.9 761.9,604.7 C 759.0,598.9 756.1,596.0 754.6,592.3" stroke-width="3.0" fill="none" />
<path d="M 747.4,593.1 C 742.3,597.4 741.6,604.7 743.7,610.5 C 747.4,617.7 754.6,620.6 758.3,618.5" stroke-width="2.0" fill="none" />
<path d="M 744.5,586.5 L 748.1,588.7 L 746.6,594.5" stroke-width="3.5" fill="none" />
<path d="M 754.6,591.6 L 757.5,593.1 L 758.3,600.3" stroke-width="4.5" fill="none" />
<g transform="translate(828,760)">
<path d="M 1,-52 C -4,-52 -6,-46 -4,-42 M 1,-52 C 5,-52 6,-48 6,-44 L 6,-28 M 3,-48 L 3,-28" stroke-width="2.2" fill="none" />
<rect x="-12" y="-30" width="24" height="50" rx="10" stroke-width="2.4" fill="#fff"/>
<path d="M -11,-24 Q 0,-20 11,-24" stroke-width="2"/>
<path d="M -11,-19 Q 0,-15 11,-19" stroke-width="2"/>
<path d="M -11,-14 Q 0,-10 11,-14" stroke-width="2"/>
<path d="M -11,-9 Q 0,-5 11,-9" stroke-width="2"/>
<path d="M -11,-4 Q 0,0 11,-4" stroke-width="2"/>
<path d="M -11,1 Q 0,5 11,1" stroke-width="2"/>
<path d="M -11,6 Q 0,10 11,6" stroke-width="2"/>
<path d="M -11,11 Q 0,15 11,11" stroke-width="2"/>
<path d="M -11,16 Q 0,20 11,16" stroke-width="2"/>
<path d="M -10,20 C -10,35 -4,42 0,42 C 4,42 10,35 10,20 M -4,22 C -4,32 -2,36 0,36 C 3,36 4,30 4,22" stroke-width="2.2" fill="none" />
</g>
<path d="M 931.2,920.0 L 938.4,962.0 L 980.4,985.2 L 989.3,983.4 L 1007.1,993.2 L 1009.8,981.6 L 1016.1,977.1 C 1025.0,968.2 1023.2,941.4 1014.3,932.5 C 1002.7,920.0 984.8,914.6 969.6,923.6 L 969.6,919.6 L 933.9,884.7 L 926.8,885.2 L 912.5,893.2 L 912.5,898.6 Z" stroke-width="0" fill="#fff" />
<path d="M 912.5,898.6 L 912.5,893.2 L 921.4,889.2 L 926.8,889.2 M 912.5,898.6 L 946.4,932.5 L 969.6,923.6 L 969.6,919.6 L 933.9,884.7 L 928.6,885.6" stroke-width="3.4" fill="none" />
<path d="M 916.5,894.1 L 947.3,928.0 L 967.0,922.7" stroke-width="2.2" fill="none" />
<ellipse cx="934.4" cy="897.7" rx="6.7" ry="10.7" transform="rotate(-30.0 934.4 897.7)" stroke-width="3.2" fill="none" />
<ellipse cx="947.3" cy="914.6" rx="2.7" ry="3.1" transform="rotate(0.0 947.3 914.6)" stroke-width="3.5" fill="none" />
<path d="M 931.2,920.0 L 938.4,962.0 L 957.1,971.8 L 980.4,985.2 L 989.3,983.4" stroke-width="3.0" fill="none" />
<path d="M 933.9,923.6 L 946.4,932.5" stroke-width="2.2" fill="none" />
<path d="M 953.6,932.5 L 953.6,955.7 L 967.0,962.0 M 958.9,931.6 L 958.9,953.0 L 964.3,955.7" stroke-width="4.5" fill="none" />
<ellipse cx="995.5" cy="948.6" rx="25.4" ry="30.8" transform="rotate(-20.0 995.5 948.6)" stroke-width="3.0" fill="#fff" />
<ellipse cx="992.9" cy="951.2" rx="19.2" ry="27.2" transform="rotate(-25.0 992.9 951.2)" stroke-width="5.0" fill="none" />
<path d="M 1014.3,937.9 C 1017.9,945.9 1018.8,959.3 1016.1,972.7" stroke-width="2.0" fill="none" />
<path d="M 991.1,953.0 L 976.8,962.0" stroke-width="2.6" fill="none" />
<path d="M 1008.0,980.7 L 1008.0,992.3 M 1012.5,980.7 L 1012.5,991.4" stroke-width="3.0" fill="none" />
<path d="M 985.7,987.0 C 984.8,991.4 987.5,994.1 989.3,994.6 L 1007.1,1003.0 M 989.3,985.2 L 1008.0,993.2" stroke-width="3.0" fill="none" />
<ellipse cx="1024.6" cy="1002.1" rx="16.5" ry="17.0" transform="rotate(0.0 1024.6 1002.1)" stroke-width="3.2" fill="#fff" />
<ellipse cx="1033.0" cy="1004.8" rx="4.9" ry="8.5" transform="rotate(20.0 1033.0 1004.8)" stroke-width="3.2" fill="none" />
<g transform="translate(1148.5,889)">
<rect x="-4" y="-13" width="8" height="12" stroke-width="2.2" fill="#fff"/>
<line x1="-4" y1="-9" x2="4" y2="-9" stroke-width="1.6"/><line x1="-4" y1="-5" x2="4" y2="-5" stroke-width="1.6"/>
<rect x="-5.5" y="-1" width="11" height="11" rx="4" stroke-width="2.2" fill="#fff"/>
</g>
<ellipse cx="384.0" cy="1330.0" rx="75.8" ry="43.4" transform="rotate(63.0 384.0 1330.0)" stroke-width="2.8" fill="#fff" />
<ellipse cx="371.0" cy="1335.0" rx="75.8" ry="43.4" transform="rotate(63.0 371.0 1335.0)" stroke-width="2.8" fill="#fff" />
<ellipse cx="372.5" cy="1334.5" rx="67.0" ry="37.5" transform="rotate(63.0 372.5 1334.5)" stroke-width="2.2" fill="none" />
<ellipse cx="369.5" cy="1339.0" rx="37.1" ry="23.8" transform="rotate(63.0 369.5 1339.0)" stroke-width="2.8" fill="none" />
<ellipse cx="370.5" cy="1338.0" rx="33.5" ry="21.0" transform="rotate(63.0 370.5 1338.0)" stroke-width="1.6" fill="none" />
<ellipse cx="364.2" cy="1296.8" rx="4.5" ry="5.2" transform="rotate(0.0 364.2 1296.8)" stroke-width="1" fill="#000" />
<ellipse cx="343.2" cy="1352.6" rx="4.5" ry="5.2" transform="rotate(0.0 343.2 1352.6)" stroke-width="1" fill="#000" />
<ellipse cx="401.4" cy="1376.9" rx="4.5" ry="5.2" transform="rotate(0.0 401.4 1376.9)" stroke-width="1" fill="#000" />
<path d="M 441.1,1242.5 L 465.4,1248.2 L 470.2,1253.9 L 492.9,1328.3 L 488.0,1339.6 L 470.2,1344.5 L 416.8,1289.5 Z" stroke-width="3.0" fill="#fff" />
<path d="M 475.1,1263.6 L 491.3,1257.1 C 501.0,1258.7 504.2,1273.3 501.0,1283.0 L 481.5,1291.1" stroke-width="2.8" fill="#fff" />
<ellipse cx="494.5" cy="1273.3" rx="7.3" ry="15.4" transform="rotate(-20.0 494.5 1273.3)" stroke-width="2.4" fill="none" />
<ellipse cx="452.4" cy="1294.3" rx="35.2" ry="24.0" transform="rotate(63.0 452.4 1294.3)" stroke-width="3.0" fill="#fff" />
<ellipse cx="454.5" cy="1292.5" rx="33.0" ry="22.0" transform="rotate(63.0 454.5 1292.5)" stroke-width="1.6" fill="none" />
<path d="M 445.9,1287.9 L 450.8,1285.4 L 458.1,1289.5 L 458.9,1302.4 L 452.4,1303.2 L 444.3,1297.6 Z" stroke-width="2.6" fill="none" />
<ellipse cx="450.0" cy="1294.3" rx="4.0" ry="4.9" transform="rotate(0.0 450.0 1294.3)" stroke-width="2" fill="none" />
<ellipse cx="450.8" cy="1252.2" rx="4.5" ry="5.5" transform="rotate(0.0 450.8 1252.2)" stroke-width="1" fill="#000" />
<ellipse cx="424.9" cy="1300.8" rx="4.5" ry="5.5" transform="rotate(0.0 424.9 1300.8)" stroke-width="1" fill="#000" />
<ellipse cx="476.7" cy="1331.5" rx="4.5" ry="5.5" transform="rotate(0.0 476.7 1331.5)" stroke-width="1" fill="#000" />
<path d="M 502.6,1177.8 L 543.0,1169.7 L 590.0,1231.2 L 590.0,1292.7 L 572.2,1297.6 C 552.8,1299.2 520.4,1283.0 502.6,1255.5 Z" stroke-width="3.0" fill="#fff" />
<path d="M 522.0,1181.0 L 543.0,1171.3 L 588.4,1231.2 L 568.9,1236.9 Z" stroke-width="3.0" fill="none" />
<path d="M 525.2,1185.9 L 567.3,1233.6" stroke-width="1.8" fill="none" />
<path d="M 568.9,1236.9 L 568.9,1299.2 M 573.0,1240.1 L 573.0,1295.9 L 588.4,1292.7" stroke-width="2.6" fill="none" />
<ellipse cx="543.0" cy="1250.6" rx="33.4" ry="16.3" transform="rotate(63.0 543.0 1250.6)" stroke-width="3.0" fill="none" />
<ellipse cx="544.0" cy="1249.5" rx="30.0" ry="14.0" transform="rotate(63.0 544.0 1249.5)" stroke-width="1.6" fill="none" />
<path d="M 516.3,1211.8 L 516.3,1253.9" stroke-width="5" fill="none" />
<path d="M 568.9,1247.4 L 568.9,1283.0" stroke-width="5" fill="none" />
<ellipse cx="516.3" cy="1211.8" rx="4.5" ry="5.5" transform="rotate(0.0 516.3 1211.8)" stroke-width="1" fill="#000" />
<ellipse cx="515.5" cy="1253.9" rx="4.5" ry="5.5" transform="rotate(0.0 515.5 1253.9)" stroke-width="1" fill="#000" />
<ellipse cx="568.9" cy="1283.0" rx="4.5" ry="5.5" transform="rotate(0.0 568.9 1283.0)" stroke-width="1" fill="#000" />
<g transform="translate(520,1312) rotate(-27)">
<rect x="-20" y="-6" width="30" height="12" rx="5" stroke-width="2.4" fill="#fff"/>
<line x1="-15" y1="-6" x2="-14" y2="6" stroke-width="1.6"/>
<line x1="-11" y1="-6" x2="-10" y2="6" stroke-width="1.6"/>
<line x1="-7" y1="-6" x2="-6" y2="6" stroke-width="1.6"/>
<line x1="-3" y1="-6" x2="-2" y2="6" stroke-width="1.6"/>
<rect x="10" y="-9" width="12" height="18" rx="3" stroke-width="2.6" fill="#fff"/>
<line x1="16" y1="-9" x2="16" y2="9" stroke-width="1.6"/>
</g>
<ellipse cx="335.5" cy="1425.0" rx="8.5" ry="9.5" transform="rotate(0.0 335.5 1425.0)" stroke-width="2.6" fill="#fff" />
<ellipse cx="335.5" cy="1425.0" rx="5.0" ry="5.5" transform="rotate(0.0 335.5 1425.0)" stroke-width="3.5" fill="#000" />
<ellipse cx="610.3" cy="1170.0" rx="7.0" ry="7.0" transform="rotate(0.0 610.3 1170.0)" stroke-width="2.6" fill="#fff" />
<ellipse cx="610.3" cy="1170.0" rx="2.3" ry="2.3" transform="rotate(0.0 610.3 1170.0)" stroke-width="1.8" fill="none" />
<ellipse cx="605.6" cy="1217.7" rx="7.0" ry="7.0" transform="rotate(0.0 605.6 1217.7)" stroke-width="2.6" fill="#fff" />
<ellipse cx="605.6" cy="1217.7" rx="2.3" ry="2.3" transform="rotate(0.0 605.6 1217.7)" stroke-width="1.8" fill="none" />
<ellipse cx="664.2" cy="1235.6" rx="7.0" ry="7.0" transform="rotate(0.0 664.2 1235.6)" stroke-width="2.6" fill="#fff" />
<ellipse cx="664.2" cy="1235.6" rx="2.3" ry="2.3" transform="rotate(0.0 664.2 1235.6)" stroke-width="1.8" fill="none" />
<ellipse cx="640.0" cy="1201.0" rx="40.0" ry="26.0" transform="rotate(63.0 640.0 1201.0)" stroke-width="2.8" fill="#fff" />
<ellipse cx="634.0" cy="1204.0" rx="38.0" ry="25.0" transform="rotate(63.0 634.0 1204.0)" stroke-width="2.8" fill="#fff" />
<ellipse cx="632.5" cy="1205.0" rx="31.0" ry="18.5" transform="rotate(63.0 632.5 1205.0)" stroke-width="2.4" fill="none" />
<ellipse cx="631.0" cy="1206.0" rx="27.0" ry="15.5" transform="rotate(63.0 631.0 1206.0)" stroke-width="1.6" fill="none" />
<path d="M 655.6,1198.1 L 668.1,1193.4 C 675.9,1195.0 679.1,1205.9 677.5,1210.6 L 660.3,1216.9 Z" stroke-width="2.6" fill="#fff" />
<ellipse cx="665.8" cy="1204.4" rx="3.4" ry="3.9" transform="rotate(0.0 665.8 1204.4)" stroke-width="2" fill="none" />
<ellipse cx="695.0" cy="1175.0" rx="32.0" ry="24.0" transform="rotate(63.0 695.0 1175.0)" stroke-width="2.8" fill="#fff" />
<ellipse cx="689.5" cy="1177.5" rx="31.0" ry="23.0" transform="rotate(63.0 689.5 1177.5)" stroke-width="3.6" fill="#fff" />
<ellipse cx="690.0" cy="1177.0" rx="23.0" ry="16.0" transform="rotate(63.0 690.0 1177.0)" stroke-width="4.2" fill="none" />
<ellipse cx="690.0" cy="1177.0" rx="14.0" ry="9.0" transform="rotate(63.0 690.0 1177.0)" stroke-width="2.2" fill="none" />
<path d="M 715.0,1095.0 L 735.3,1088.8 C 746.2,1089.5 758.8,1095.0 766.6,1101.2 L 761.9,1107.5 L 758.8,1113.8 C 760.3,1120.0 765.0,1127.8 771.2,1127.8 L 780.6,1121.6 C 793.1,1137.2 802.5,1155.9 802.5,1179.4 L 800.9,1193.4 L 790.0,1198.1 C 777.5,1196.6 761.9,1193.4 746.2,1185.6 C 730.6,1176.2 719.7,1165.3 716.6,1151.2 L 710.3,1132.5 L 710.3,1109.1 Z" stroke-width="3.2" fill="#fff" />
<ellipse cx="753.3" cy="1148.9" rx="18.8" ry="31.2" transform="rotate(-20.0 753.3 1148.9)" stroke-width="6.0" fill="none" />
<ellipse cx="754.1" cy="1148.1" rx="15.6" ry="27.3" transform="rotate(-20.0 754.1 1148.1)" stroke-width="1.8" fill="none" />
<ellipse cx="749.4" cy="1107.5" rx="4.0" ry="4.5" transform="rotate(0.0 749.4 1107.5)" stroke-width="1" fill="#000" />
<ellipse cx="725.9" cy="1118.4" rx="4.0" ry="4.5" transform="rotate(0.0 725.9 1118.4)" stroke-width="1" fill="#000" />
<ellipse cx="724.4" cy="1152.8" rx="4.0" ry="4.5" transform="rotate(0.0 724.4 1152.8)" stroke-width="1" fill="#000" />
<ellipse cx="779.8" cy="1149.7" rx="4.0" ry="4.5" transform="rotate(0.0 779.8 1149.7)" stroke-width="1" fill="#000" />
<ellipse cx="779.8" cy="1182.5" rx="4.0" ry="4.5" transform="rotate(0.0 779.8 1182.5)" stroke-width="1" fill="#000" />
<path d="M 713.4,1129.4 L 730.6,1135.6 M 713.4,1134.1 L 730.6,1140.3" stroke-width="2.0" fill="none" />
<path d="M 722.8,1126.2 L 722.8,1145.0 M 727.5,1127.8 L 727.5,1143.4" stroke-width="3.0" fill="none" />
<path d="M 774.4,1163.8 L 797.8,1173.1 M 774.4,1168.4 L 797.8,1177.8" stroke-width="2.0" fill="none" />
<path d="M 779.1,1160.6 L 779.1,1179.4" stroke-width="5" fill="none" />
<g transform="translate(832,1131) rotate(-33)">
<rect x="-20" y="-5" width="26" height="10" rx="3" stroke-width="2.2" fill="#fff"/>
<line x1="-16" y1="-5" x2="-15" y2="5" stroke-width="1.8"/>
<line x1="-12" y1="-5" x2="-11" y2="5" stroke-width="1.8"/>
<line x1="-8" y1="-5" x2="-7" y2="5" stroke-width="1.8"/>
<line x1="-4" y1="-5" x2="-3" y2="5" stroke-width="1.8"/>
<ellipse cx="10" cy="0" rx="5" ry="12" stroke-width="2.6" fill="#fff"/>
<ellipse cx="9" cy="0" rx="2.5" ry="6" stroke-width="1.6"/>
</g>
<path d="M 853,1070 C 844,1074 842,1088 850,1095 C 858,1102 872,1100 874,1090 C 876,1080 870,1073 866,1072" stroke-width="3.0" fill="none" />
<path d="M 856,1076 C 850,1080 850,1090 856,1094 C 862,1098 870,1094 870,1088" stroke-width="1.6" fill="none" />
<path d="M 853,1070 L 853,1064 L 858,1066 M 866,1072 L 866,1066" stroke-width="2.6" fill="none" />
<path d="M 1035.0,1310.6 C 1040.4,1313.9 1047.0,1312.6 1049.7,1305.9 L 1051.1,1272.4 C 1052.4,1265.7 1056.4,1264.4 1059.1,1265.7" stroke-width="10.5" fill="none" />
<path d="M 1035.0,1310.6 C 1040.4,1313.9 1047.0,1312.6 1049.7,1305.9 L 1051.1,1272.4 C 1052.4,1265.7 1056.4,1264.4 1059.1,1265.7" stroke-width="5.5" fill="none" stroke="#fff"/>
<path d="M 1056.4,1281.8 L 1057.1,1230.9 C 1057.8,1218.8 1073.8,1216.2 1075.2,1224.2 L 1079.2,1268.4 L 1065.8,1273.7 Z" stroke-width="3.0" fill="#fff" />
<path d="M 1057.8,1281.8 L 1057.8,1233.6" stroke-width="5" fill="none" />
<ellipse cx="1068.5" cy="1231.6" rx="3.7" ry="4.3" transform="rotate(0.0 1068.5 1231.6)" stroke-width="1" fill="#000" />
<path d="M 1068.5,1273.7 C 1075.2,1275.1 1084.5,1280.4 1085.9,1287.1 L 1085.9,1331.3 C 1087.2,1338.0 1093.9,1343.4 1107.3,1348.1" stroke-width="11" fill="none" />
<path d="M 1068.5,1273.7 C 1075.2,1275.1 1084.5,1280.4 1085.9,1287.1 L 1085.9,1331.3 C 1087.2,1338.0 1093.9,1343.4 1107.3,1348.1" stroke-width="6" fill="none" stroke="#fff"/>
<ellipse cx="1106.6" cy="1347.4" rx="3.3" ry="4.7" transform="rotate(30.0 1106.6 1347.4)" stroke-width="2.2" fill="none" />
<path d="M 988.1,1282.5 L 1032.3,1304.5 L 1032.3,1350.1 L 1027.6,1352.1 L 982.1,1330.0 L 982.1,1284.5 Z" stroke-width="3.0" fill="#fff" />
<path d="M 982.1,1284.5 L 1027.0,1306.6 L 1027.6,1352.1 M 1027.0,1306.6 L 1032.3,1304.5" stroke-width="2.8" fill="none" />
<path d="M 1029.6,1305.9 L 1029.9,1350.8" stroke-width="1.6" fill="none" />
<ellipse cx="989.5" cy="1307.2" rx="4.0" ry="5.1" transform="rotate(0.0 989.5 1307.2)" stroke-width="1" fill="#000" />
<ellipse cx="1018.9" cy="1324.0" rx="4.0" ry="5.1" transform="rotate(0.0 1018.9 1324.0)" stroke-width="1" fill="#000" />
<ellipse cx="1005.5" cy="1334.0" rx="4.0" ry="5.1" transform="rotate(0.0 1005.5 1334.0)" stroke-width="1" fill="#000" />
<path d="M 1000.2,1297.9 L 1000.2,1317.9 L 1005.5,1322.0 L 1006.9,1300.5 Z" stroke-width="2.4" fill="none" />
<path d="M 1001.5,1307.2 L 1004.2,1316.6 L 1009.6,1317.9" stroke-width="2" fill="none" />
<path d="M 1032.3,1343.4 L 1072.5,1320.6" stroke-width="2.4" fill="none" />
<path d="M 1092.6,1308.6 L 1123.4,1291.2" stroke-width="2.2" fill="none" />
<ellipse cx="1147.5" cy="1273.7" rx="18.7" ry="25.4" transform="rotate(-20.0 1147.5 1273.7)" stroke-width="3.0" fill="#fff" />
<ellipse cx="1135.4" cy="1283.1" rx="17.4" ry="24.8" transform="rotate(-20.0 1135.4 1283.1)" stroke-width="3.2" fill="#fff" />
<ellipse cx="1134.8" cy="1283.8" rx="13.4" ry="20.8" transform="rotate(-20.0 1134.8 1283.8)" stroke-width="2.2" fill="none" />
<ellipse cx="1135.4" cy="1283.1" rx="10.7" ry="16.1" transform="rotate(-20.0 1135.4 1283.1)" stroke-width="1.6" fill="none" />
<path d="M 1130.1,1279.1 L 1135.4,1276.4 L 1142.1,1281.8 L 1143.5,1289.8 L 1138.1,1291.2 L 1131.4,1287.1 Z" stroke-width="2.2" fill="none" />
<path d="M 1170.3,1238.9 C 1162.2,1242.9 1158.2,1255.0 1163.6,1267.0 C 1168.9,1279.1 1182.3,1284.5 1190.3,1279.1 C 1195.7,1273.7 1194.4,1263.0 1190.3,1255.0 C 1187.7,1249.6 1183.7,1244.3 1179.6,1241.6" stroke-width="7" fill="none" />
<path d="M 1170.3,1238.9 C 1166.2,1240.3 1163.6,1244.3 1162.2,1248.3" stroke-width="3" fill="none" />
<path d="M 878.8,1267.6 L 1008.6,1192.5 C 1016.4,1194.1 1020.3,1203.5 1018.0,1209.7 L 885.1,1284.8 Z" stroke-width="0" fill="#fff" />
<path d="M 878.8,1267.6 L 1008.6,1192.5 C 1016.4,1194.1 1020.3,1203.5 1018.0,1209.7 L 885.1,1284.8" stroke-width="3.0" fill="none" />
<ellipse cx="882.0" cy="1276.2" rx="7.0" ry="9.7" transform="rotate(-30.0 882.0 1276.2)" stroke-width="3.0" fill="#fff" />
<path d="M 982.0,1206.6 C 988.3,1211.3 991.4,1217.5 991.4,1222.2 M 986.7,1205.0 C 993.0,1209.7 996.1,1216.0 996.1,1220.7" stroke-width="2.2" fill="none" />
<path d="M 770.9,1477.1 L 947.6,1373.9 L 958.6,1380.9 L 963.3,1390.3 L 783.5,1496.6 L 778.8,1498.9 L 767.8,1491.1 L 766.3,1481.8 Z" stroke-width="0" fill="#fff" />
<path d="M 766.3,1481.8 L 770.9,1477.1 L 947.6,1373.9 L 958.6,1380.9 L 963.3,1390.3 L 783.5,1496.6" stroke-width="3.0" fill="none" />
<path d="M 766.3,1481.8 L 778.8,1486.4 L 785.0,1495.8 L 778.8,1498.9 L 767.8,1491.1 Z" stroke-width="3.0" fill="none" />
<path d="M 778.8,1486.4 L 958.6,1380.9" stroke-width="2.4" fill="none" />
<path d="M 785.0,1495.8 L 963.3,1390.3" stroke-width="5.0" fill="none" />
<path d="M 932.0,1386.4 L 939.8,1384.8 L 936.7,1389.5 M 842.9,1438.0 L 850.7,1436.4 L 847.6,1441.1" stroke-width="2.0" fill="none" />
<path d="M 920.3,1278.5 L 926.5,1278.5 L 926.5,1303.5 L 920.3,1303.5 Z" stroke-width="2.4" fill="#fff" />
<path d="M 771.7,1355.9 L 777.5,1355.9 L 777.5,1381.7 L 771.7,1381.7 Z" stroke-width="2.4" fill="#fff" />
<path d="M 939.8,1342.6 L 960.1,1331.7 C 964.8,1332.4 964.0,1337.9 961.7,1338.7 L 942.9,1350.4" stroke-width="2.6" fill="#fff" />
<path d="M 946.1,1342.6 L 947.9,1347.3" stroke-width="1.8" fill="none" />
<path d="M 950.0,1340.4 L 951.8,1345.1" stroke-width="1.8" fill="none" />
<path d="M 953.9,1338.2 L 955.7,1342.9" stroke-width="1.8" fill="none" />
<path d="M 957.8,1336.0 L 959.7,1340.7" stroke-width="1.8" fill="none" />
<ellipse cx="935.9" cy="1348.1" rx="8.6" ry="9.4" transform="rotate(0.0 935.9 1348.1)" stroke-width="3.0" fill="#fff" />
<ellipse cx="935.9" cy="1348.1" rx="3.9" ry="4.4" transform="rotate(0.0 935.9 1348.1)" stroke-width="1.8" fill="none" />
<path d="M 1441.6,1228.9 L 1470.9,1242.9 L 1448.9,1257.5 L 1435.8,1252.4 C 1428.4,1248.0 1428.4,1234.8 1435.8,1230.4 Z" stroke-width="3.0" fill="#fff" />
<path d="M 1335.4,1364.5 L 1385.9,1325.6 L 1385.9,1308.1 L 1493.6,1225.3 L 1516.3,1222.3 L 1544.2,1220.1 L 1544.9,1235.5 L 1359.6,1379.9 Z" stroke-width="0" fill="#fff" />
<path d="M 1335.4,1364.5 L 1359.6,1379.1 L 1544.9,1235.5 L 1544.2,1220.1 L 1516.3,1222.3 L 1493.6,1225.3 L 1385.9,1308.1 L 1385.2,1315.4 L 1390.3,1321.2 L 1516.3,1224.5" stroke-width="3.0" fill="none" />
<path d="M 1335.4,1364.5 L 1359.6,1347.6 L 1390.3,1321.2" stroke-width="2.8" fill="none" />
<path d="M 1359.6,1347.6 L 1359.6,1379.1 M 1364.0,1349.1 L 1364.0,1376.9" stroke-width="2.6" fill="none" />
<path d="M 1364.0,1349.1 L 1390.3,1322.7" stroke-width="2.6" fill="none" />
<ellipse cx="1484.1" cy="1264.1" rx="9.5" ry="13.9" transform="rotate(20.0 1484.1 1264.1)" stroke-width="3.0" fill="#fff" />
<ellipse cx="1481.2" cy="1265.6" rx="7.3" ry="11.7" transform="rotate(20.0 1481.2 1265.6)" stroke-width="2.2" fill="none" />
<ellipse cx="1491.4" cy="1135.9" rx="12.5" ry="9.5" transform="rotate(0.0 1491.4 1135.9)" stroke-width="3.2" fill="#fff" />
<ellipse cx="1491.4" cy="1133.5" rx="7.0" ry="4.5" transform="rotate(0.0 1491.4 1133.5)" stroke-width="3.0" fill="none" />
<path d="M 1485,1139 L 1485,1144 L 1497,1144 L 1497,1139" stroke-width="2" fill="none" />
<ellipse cx="1491.4" cy="1185.7" rx="20.5" ry="12.5" transform="rotate(0.0 1491.4 1185.7)" stroke-width="2.8" fill="#fff" />
<ellipse cx="1491.4" cy="1184.5" rx="9.0" ry="5.0" transform="rotate(0.0 1491.4 1184.5)" stroke-width="2.8" fill="none" />
<g transform="translate(1491.4,1320)">
<rect x="-4" y="-14" width="8" height="30" rx="2" stroke-width="2.2" fill="#fff"/>
<line x1="-4" y1="-10" x2="4" y2="-10" stroke-width="1.5"/>
<line x1="-4" y1="-6" x2="4" y2="-6" stroke-width="1.5"/>
<line x1="-4" y1="-2" x2="4" y2="-2" stroke-width="1.5"/>
<line x1="-4" y1="2" x2="4" y2="2" stroke-width="1.5"/>
<line x1="-4" y1="6" x2="4" y2="6" stroke-width="1.5"/>
<ellipse cx="0" cy="21" rx="10" ry="6.5" stroke-width="2.4" fill="#fff"/>
<ellipse cx="0" cy="19" rx="4" ry="3" stroke-width="1.6"/>
</g>
<ellipse cx="1219.0" cy="1233.1" rx="30.5" ry="22.0" transform="rotate(60.0 1219.0 1233.1)" stroke-width="3.2" fill="#fff" />
<ellipse cx="1216.0" cy="1235.0" rx="29.0" ry="20.5" transform="rotate(60.0 1216.0 1235.0)" stroke-width="2.0" fill="none" />
<ellipse cx="1217.0" cy="1234.5" rx="25.0" ry="16.5" transform="rotate(60.0 1217.0 1234.5)" stroke-width="4.0" fill="none" />
<path d="M 1091.1,1411.6 L 1158.4,1370.7 C 1166.3,1368.1 1172.9,1374.7 1170.3,1381.3 L 1167.6,1389.2 L 1100.3,1426.1 C 1092.4,1430.1 1084.5,1426.1 1085.8,1419.5 C 1086.5,1415.6 1088.5,1412.9 1091.1,1411.6 Z" stroke-width="3.0" fill="#fff" />
<path d="M 1094.4,1414.2 L 1159.7,1374.7 M 1097.7,1426.1 L 1165.0,1386.5" stroke-width="1.8" fill="none" />
<path d="M 1096.4,1412.9 L 1161.0,1373.4" stroke-width="1.6" fill="none" stroke-dasharray="3 3"/>
<ellipse cx="1097.7" cy="1420.2" rx="4.0" ry="6.6" transform="rotate(30.0 1097.7 1420.2)" stroke-width="2.4" fill="none" />
<ellipse cx="1162.3" cy="1379.9" rx="4.0" ry="6.6" transform="rotate(30.0 1162.3 1379.9)" stroke-width="2.4" fill="none" />
<path d="M 1117.5,1432.7 L 1144.5,1448.5 L 1141.9,1452.5 L 1116.2,1436.7 Z" stroke-width="2.6" fill="#fff" />
<path d="M 1208.5,1399.7 L 1219.1,1401.1 C 1224.3,1403.7 1224.3,1414.2 1219.1,1416.9 L 1208.5,1414.2 Z" stroke-width="2.6" fill="#fff" />
<ellipse cx="1208.5" cy="1406.3" rx="7.9" ry="11.9" transform="rotate(10.0 1208.5 1406.3)" stroke-width="3.0" fill="#fff" />
<ellipse cx="1209.2" cy="1407.0" rx="5.0" ry="7.9" transform="rotate(10.0 1209.2 1407.0)" stroke-width="1.8" fill="none" />
<ellipse cx="1218.4" cy="1409.0" rx="3.3" ry="7.3" transform="rotate(10.0 1218.4 1409.0)" stroke-width="1.8" fill="none" />
<ellipse cx="371.7" cy="1692.0" rx="77.4" ry="45.8" transform="rotate(60.0 371.7 1692.0)" stroke-width="3.0" fill="#fff" />
<ellipse cx="373.0" cy="1691.0" rx="74.0" ry="43.0" transform="rotate(60.0 373.0 1691.0)" stroke-width="1.8" fill="none" />
<ellipse cx="370.0" cy="1693.5" rx="70.5" ry="37.0" transform="rotate(60.0 370.0 1693.5)" stroke-width="3.0" fill="none" />
<ellipse cx="369.0" cy="1694.0" rx="66.5" ry="33.5" transform="rotate(60.0 369.0 1694.0)" stroke-width="1.8" fill="none" />
<ellipse cx="454.2" cy="1642.3" rx="75.0" ry="52.3" transform="rotate(60.0 454.2 1642.3)" stroke-width="3.2" fill="#fff" />
<ellipse cx="453.2" cy="1643.3" rx="71.0" ry="49.0" transform="rotate(60.0 453.2 1643.3)" stroke-width="1.8" fill="none" />
<ellipse cx="452.7" cy="1643.8" rx="66.0" ry="45.0" transform="rotate(60.0 452.7 1643.8)" stroke-width="3.0" fill="none" />
<g class="n" transform="matrix(33.000,57.158,-38.971,22.500,452.70,1643.80)">
<line x1="0.330" y1="0.013" x2="0.968" y2="0.068" stroke-width="4.4"/>
<line x1="0.326" y1="0.053" x2="0.962" y2="0.126" stroke-width="2.0"/>
<line x1="0.291" y1="0.155" x2="0.842" y2="0.481" stroke-width="4.4"/>
<line x1="0.271" y1="0.189" x2="0.812" y2="0.531" stroke-width="2.0"/>
<line x1="0.195" y1="0.266" x2="0.550" y2="0.799" stroke-width="4.4"/>
<line x1="0.162" y1="0.287" x2="0.501" y2="0.830" stroke-width="2.0"/>
<line x1="0.061" y1="0.324" x2="0.149" y2="0.958" stroke-width="4.4"/>
<line x1="0.021" y1="0.329" x2="0.091" y2="0.966" stroke-width="2.0"/>
<line x1="-0.086" y1="0.319" x2="-0.281" y2="0.928" stroke-width="4.4"/>
<line x1="-0.124" y1="0.306" x2="-0.337" y2="0.910" stroke-width="2.0"/>
<line x1="-0.216" y1="0.250" x2="-0.656" y2="0.714" stroke-width="4.4"/>
<line x1="-0.244" y1="0.222" x2="-0.698" y2="0.674" stroke-width="2.0"/>
<line x1="-0.303" y1="0.131" x2="-0.901" y2="0.359" stroke-width="4.4"/>
<line x1="-0.316" y1="0.094" x2="-0.921" y2="0.304" stroke-width="2.0"/>
<line x1="-0.330" y1="-0.013" x2="-0.968" y2="-0.068" stroke-width="4.4"/>
<line x1="-0.326" y1="-0.053" x2="-0.962" y2="-0.126" stroke-width="2.0"/>
<line x1="-0.291" y1="-0.155" x2="-0.842" y2="-0.481" stroke-width="4.4"/>
<line x1="-0.271" y1="-0.189" x2="-0.812" y2="-0.531" stroke-width="2.0"/>
<line x1="-0.195" y1="-0.266" x2="-0.550" y2="-0.799" stroke-width="4.4"/>
<line x1="-0.162" y1="-0.287" x2="-0.501" y2="-0.830" stroke-width="2.0"/>
<line x1="-0.061" y1="-0.324" x2="-0.149" y2="-0.958" stroke-width="4.4"/>
<line x1="-0.021" y1="-0.329" x2="-0.091" y2="-0.966" stroke-width="2.0"/>
<line x1="0.086" y1="-0.319" x2="0.281" y2="-0.928" stroke-width="4.4"/>
<line x1="0.124" y1="-0.306" x2="0.337" y2="-0.910" stroke-width="2.0"/>
<line x1="0.216" y1="-0.250" x2="0.656" y2="-0.714" stroke-width="4.4"/>
<line x1="0.244" y1="-0.222" x2="0.698" y2="-0.674" stroke-width="2.0"/>
<line x1="0.303" y1="-0.131" x2="0.901" y2="-0.359" stroke-width="4.4"/>
<line x1="0.316" y1="-0.094" x2="0.921" y2="-0.304" stroke-width="2.0"/>
</g>
<ellipse cx="450.5" cy="1643.8" rx="24.0" ry="17.0" transform="rotate(60.0 450.5 1643.8)" stroke-width="3.0" fill="#fff" />
<ellipse cx="450.8" cy="1644.9" rx="13.0" ry="9.0" transform="rotate(60.0 450.8 1644.9)" stroke-width="4.0" fill="none" />
<path d="M 447,1641 L 453,1640 L 456,1646 L 452,1650 L 446,1648 Z" stroke-width="2" fill="none" />
<path d="M 505.9,1569.5 L 533.6,1534.9 L 537.0,1535.7 L 554.3,1546.1 L 584.6,1608.4 L 584.6,1649.9 L 568.2,1659.4 L 540.5,1643.8 C 521.5,1636.1 509.4,1622.2 505.9,1611.8 Z" stroke-width="3.0" fill="#fff" />
<path d="M 534.4,1538.3 L 552.6,1548.7 L 581.1,1611.0 L 581.7,1649.0" stroke-width="2.0" fill="none" />
<path d="M 552.6,1546.1 L 584.6,1608.4" stroke-width="2.4" fill="none" />
<ellipse cx="534.4" cy="1617.0" rx="20.8" ry="28.5" transform="rotate(-25.0 534.4 1617.0)" stroke-width="3.0" fill="#fff" />
<ellipse cx="530.1" cy="1618.8" rx="16.4" ry="24.2" transform="rotate(-25.0 530.1 1618.8)" stroke-width="4.0" fill="none" />
<ellipse cx="529.2" cy="1619.6" rx="13.0" ry="20.8" transform="rotate(-25.0 529.2 1619.6)" stroke-width="1.8" fill="none" />
<ellipse cx="538.2" cy="1556.1" rx="6.1" ry="8.6" transform="rotate(-15.0 538.2 1556.1)" stroke-width="2.8" fill="none" />
<ellipse cx="538.2" cy="1556.1" rx="2.4" ry="4.3" transform="rotate(-15.0 538.2 1556.1)" stroke-width="1.6" fill="none" />
<ellipse cx="512.8" cy="1578.1" rx="3.5" ry="3.5" transform="rotate(0.0 512.8 1578.1)" stroke-width="1" fill="#000" />
<ellipse cx="566.4" cy="1608.4" rx="3.5" ry="3.5" transform="rotate(0.0 566.4 1608.4)" stroke-width="1" fill="#000" />
<ellipse cx="565.6" cy="1646.4" rx="3.5" ry="3.5" transform="rotate(0.0 565.6 1646.4)" stroke-width="1" fill="#000" />
<path d="M 565.6,1617.0 L 570.8,1617.0 L 570.8,1641.3 L 565.6,1641.3 Z" stroke-width="3.0" fill="none" />
<path d="M 512.0,1582.4 L 512.0,1599.7" stroke-width="3.0" fill="none" />
<path d="M 589.8,1501.1 L 607.1,1495.1 L 666.8,1529.7 L 684.1,1553.0 L 683.2,1568.6 L 673.7,1566.9 L 666.8,1553.0 L 658.1,1551.3 L 649.5,1546.1 C 647.7,1539.2 646.0,1535.7 639.1,1532.3 L 628.7,1530.5 L 620.1,1533.1 L 609.7,1525.4 L 604.5,1521.9 L 590.7,1516.7 Z" stroke-width="3.4" fill="#fff" />
<path d="M 593.3,1504.6 L 606.2,1499.4 L 665.0,1532.3 L 680.6,1554.8" stroke-width="1.8" fill="none" />
<path d="M 590.7,1546.1 L 594.1,1546.1 L 621.8,1563.4 L 627.0,1573.8 C 630.4,1580.7 633.9,1584.2 639.1,1585.0 L 646.0,1580.7 L 654.7,1584.2 L 680.6,1598.0 L 680.6,1611.8 L 665.0,1617.9 L 602.8,1582.4 L 590.7,1561.7 Z" stroke-width="3.4" fill="#fff" />
<path d="M 590.7,1546.1 L 590.7,1556.5 L 597.6,1556.5" stroke-width="6" fill="none" />
<path d="M 661.6,1587.6 L 673.7,1594.5 L 673.7,1601.5" stroke-width="5" fill="none" />
<ellipse cx="604.5" cy="1511.5" rx="3.5" ry="3.5" transform="rotate(0.0 604.5 1511.5)" stroke-width="1" fill="#000" />
<ellipse cx="663.3" cy="1544.4" rx="3.5" ry="3.5" transform="rotate(0.0 663.3 1544.4)" stroke-width="1" fill="#000" />
<ellipse cx="604.5" cy="1568.6" rx="3.5" ry="3.5" transform="rotate(0.0 604.5 1568.6)" stroke-width="1" fill="#000" />
<ellipse cx="663.3" cy="1603.2" rx="3.5" ry="3.5" transform="rotate(0.0 663.3 1603.2)" stroke-width="1" fill="#000" />
<ellipse cx="599.3" cy="1558.2" rx="3.5" ry="3.5" transform="rotate(0.0 599.3 1558.2)" stroke-width="1" fill="#000" />
<ellipse cx="666.8" cy="1556.5" rx="3.5" ry="3.5" transform="rotate(0.0 666.8 1556.5)" stroke-width="1" fill="#000" />
<ellipse cx="521.3" cy="1705.6" rx="12.0" ry="9.8" transform="rotate(0.0 521.3 1705.6)" stroke-width="2.8" fill="#fff" />
<ellipse cx="521.3" cy="1703.0" rx="8.0" ry="5.0" transform="rotate(0.0 521.3 1703.0)" stroke-width="2" fill="none" />
<path d="M 512,1708 L 512,1713 L 530,1713 L 530,1708 M 518,1708 L 518,1714 M 524,1708 L 524,1714" stroke-width="1.8" fill="none" />
<ellipse cx="519.8" cy="1734.2" rx="15.8" ry="10.5" transform="rotate(0.0 519.8 1734.2)" stroke-width="2.8" fill="#fff" />
<ellipse cx="520.5" cy="1733.5" rx="8.0" ry="4.8" transform="rotate(0.0 520.5 1733.5)" stroke-width="2.6" fill="none" />
<path d="M 505,1735 C 505,1741 512,1745 520,1745 C 528,1745 535,1741 535,1735" stroke-width="1.6" fill="none" />
<ellipse cx="520.5" cy="1765.9" rx="15.8" ry="10.0" transform="rotate(0.0 520.5 1765.9)" stroke-width="2.8" fill="#fff" />
<ellipse cx="520.5" cy="1765.5" rx="7.0" ry="3.8" transform="rotate(0.0 520.5 1765.5)" stroke-width="2.4" fill="none" />
<g transform="translate(658,1466) rotate(-30)">
<rect x="-14" y="-3.5" width="18" height="7" stroke-width="2.2" fill="#fff"/>
<line x1="-11" y1="-3.5" x2="-10" y2="3.5" stroke-width="1.6"/>
<line x1="-7" y1="-3.5" x2="-6" y2="3.5" stroke-width="1.6"/>
<line x1="-3" y1="-3.5" x2="-2" y2="3.5" stroke-width="1.6"/>
<ellipse cx="7" cy="0" rx="4" ry="8" stroke-width="2.4" fill="#fff"/>
<ellipse cx="6.5" cy="0" rx="1.8" ry="4" stroke-width="1.4"/>
</g>
<path d="M 413.0,1863.0 L 413.0,1870.0 A 106.5 64.5 0 0 0 626.0,1870.0 L 626.0,1863.0 Z" stroke-width="3.2" fill="#fff" />
<path d="M 414.0,1866.0 A 105.5 64.5 0 0 0 625.0,1866.0" stroke-width="4.5" fill="none" />
<ellipse cx="519.5" cy="1863.0" rx="106.5" ry="64.5" transform="rotate(0.0 519.5 1863.0)" stroke-width="3.0" fill="#fff" />
<path d="M 419.0,1863.0 A 100.5 59.5 0 0 0 620.0,1863.0" stroke-width="1.6" fill="none" />
<ellipse cx="519.2" cy="1862.3" rx="93.8" ry="48.2" transform="rotate(0.0 519.2 1862.3)" stroke-width="3.0" fill="none" />
<path d="M 429.20000000000005,1868 A 90 47 0 0 0 609.2,1868" stroke-width="2.4" fill="none" />
<path d="M 435.20000000000005,1874 A 84 43 0 0 0 603.2,1874" stroke-width="2.0" fill="none" />
<ellipse cx="519.5" cy="1854.0" rx="20.4" ry="12.4" transform="rotate(0.0 519.5 1854.0)" stroke-width="3.6" fill="none" />
<ellipse cx="511.8" cy="1971.0" rx="28.8" ry="17.0" transform="rotate(0.0 511.8 1971.0)" stroke-width="3.0" fill="#fff" />
<path d="M 483.0,1963 L 483.5,1971 A 28.8 17 0 0 0 540.1,1971 L 540.6,1963 Z" stroke-width="3.0" fill="#fff" />
<ellipse cx="511.8" cy="1963.0" rx="28.8" ry="16.8" transform="rotate(0.0 511.8 1963.0)" stroke-width="0" fill="#000" />
<path d="M 485.8,1969 A 26 14 0 0 0 537.8,1969" stroke-width="1.6" fill="none" stroke="#fff"/>
<ellipse cx="511.8" cy="1963.0" rx="24.0" ry="12.5" transform="rotate(0.0 511.8 1963.0)" stroke-width="1.4" fill="none" stroke="#fff"/>
<ellipse cx="511.8" cy="1964.0" rx="14.2" ry="7.8" transform="rotate(0.0 511.8 1964.0)" stroke-width="0" fill="#fff" />
<path d="M 498.8,1964 A 13 5 0 0 1 524.8,1964" stroke-width="3.0" fill="none" />
<ellipse cx="513.5" cy="2012.6" rx="29.5" ry="18.0" transform="rotate(0.0 513.5 2012.6)" stroke-width="3.0" fill="#fff" />
<ellipse cx="513.5" cy="2008.6" rx="29.5" ry="18.0" transform="rotate(0.0 513.5 2008.6)" stroke-width="3.4" fill="#fff" />
<ellipse cx="513.5" cy="2008.6" rx="21.2" ry="13.9" transform="rotate(0.0 513.5 2008.6)" stroke-width="3.4" fill="none" />
<ellipse cx="513.5" cy="2009.5" rx="17.8" ry="7.3" transform="rotate(0.0 513.5 2009.5)" stroke-width="1.6" fill="none" />
<ellipse cx="511.8" cy="2052.3" rx="28.8" ry="17.0" transform="rotate(0.0 511.8 2052.3)" stroke-width="3.0" fill="#fff" />
<path d="M 483.0,2044.3 L 483.5,2052.3 A 28.8 17 0 0 0 540.1,2052.3 L 540.6,2044.3 Z" stroke-width="3.0" fill="#fff" />
<ellipse cx="511.8" cy="2044.3" rx="28.8" ry="16.8" transform="rotate(0.0 511.8 2044.3)" stroke-width="0" fill="#000" />
<path d="M 485.8,2050.3 A 26 14 0 0 0 537.8,2050.3" stroke-width="1.6" fill="none" stroke="#fff"/>
<ellipse cx="511.8" cy="2044.3" rx="24.0" ry="12.5" transform="rotate(0.0 511.8 2044.3)" stroke-width="1.4" fill="none" stroke="#fff"/>
<ellipse cx="511.8" cy="2045.3" rx="14.2" ry="7.8" transform="rotate(0.0 511.8 2045.3)" stroke-width="0" fill="#fff" />
<path d="M 498.8,2045.3 A 13 5 0 0 1 524.8,2045.3" stroke-width="3.0" fill="none" />
<ellipse cx="514.2" cy="2107.8" rx="15.1" ry="8.8" transform="rotate(0.0 514.2 2107.8)" stroke-width="3.2" fill="#fff" />
<ellipse cx="514.2" cy="2106.0" rx="12.0" ry="6.0" transform="rotate(0.0 514.2 2106.0)" stroke-width="1.6" fill="none" />
<rect x="503.7" y="2079" width="21" height="27" stroke-width="3" fill="#fff"/>
<ellipse cx="514.2" cy="2079.0" rx="10.5" ry="6.0" transform="rotate(0.0 514.2 2079.0)" stroke-width="3.0" fill="#fff" />
<ellipse cx="514.2" cy="2079.0" rx="6.0" ry="3.5" transform="rotate(0.0 514.2 2079.0)" stroke-width="1.8" fill="none" />
<path d="M 506.5,2086 A 8 3 0 0 0 522,2086" stroke-width="2.2" fill="none" />
<path d="M 460.3,2168.3 L 460.3,2175 A 53.9 30.3 0 0 0 568.1,2175 L 568.1,2168.3 Z" stroke-width="3.0" fill="#fff" />
<ellipse cx="514.2" cy="2168.3" rx="53.9" ry="30.3" transform="rotate(0.0 514.2 2168.3)" stroke-width="3.0" fill="#fff" />
<ellipse cx="514.2" cy="2168.3" rx="32.0" ry="18.0" transform="rotate(0.0 514.2 2168.3)" stroke-width="3.0" fill="none" />
<path d="M 485,2166 A 30 14 0 0 1 543,2166 L 544,2172" stroke-width="2.6" fill="none" />
<ellipse cx="514.2" cy="2175.6" rx="19.1" ry="9.6" transform="rotate(0.0 514.2 2175.6)" stroke-width="4.0" fill="none" />
<ellipse cx="473.1" cy="2168.3" rx="6.0" ry="3.5" transform="rotate(0.0 473.1 2168.3)" stroke-width="2.4" fill="#fff" />
<ellipse cx="555.2" cy="2168.3" rx="6.0" ry="3.5" transform="rotate(0.0 555.2 2168.3)" stroke-width="2.4" fill="#fff" />
<ellipse cx="513.0" cy="2144.2" rx="6.0" ry="3.5" transform="rotate(0.0 513.0 2144.2)" stroke-width="2.4" fill="#fff" />
<ellipse cx="513.0" cy="2191.3" rx="6.0" ry="3.5" transform="rotate(0.0 513.0 2191.3)" stroke-width="2.4" fill="#fff" />
<ellipse cx="473.4" cy="2243.0" rx="12.0" ry="7.3" transform="rotate(0.0 473.4 2243.0)" stroke-width="2.8" fill="#fff" />
<rect x="468.3" y="2211" width="10.4" height="32" rx="2" stroke-width="2.4" fill="#fff"/>
<line x1="468.3" y1="2216" x2="478.7" y2="2216" stroke-width="1.6"/>
<line x1="468.3" y1="2220" x2="478.7" y2="2220" stroke-width="1.6"/>
<line x1="468.3" y1="2224" x2="478.7" y2="2224" stroke-width="1.6"/>
<line x1="468.3" y1="2228" x2="478.7" y2="2228" stroke-width="1.6"/>
<ellipse cx="514.2" cy="2329.6" rx="19.7" ry="12.9" transform="rotate(0.0 514.2 2329.6)" stroke-width="3.0" fill="#fff" />
<rect x="505.5" y="2266" width="17" height="50" rx="3" stroke-width="2.8" fill="#fff"/>
<path d="M 506,2273 A 8.5 3 0 0 0 522,2273" stroke-width="1.8" fill="none" />
<path d="M 506,2279 A 8.5 3 0 0 0 522,2279" stroke-width="1.8" fill="none" />
<path d="M 506,2285 A 8.5 3 0 0 0 522,2285" stroke-width="1.8" fill="none" />
<path d="M 506,2291 A 8.5 3 0 0 0 522,2291" stroke-width="1.8" fill="none" />
<path d="M 506,2297 A 8.5 3 0 0 0 522,2297" stroke-width="1.8" fill="none" />
<path d="M 503,2316 L 503,2326 L 514,2334 L 526,2326 L 526,2316 M 514,2322 L 514,2334 M 503,2316 L 514,2322 L 526,2316" stroke-width="2.4" fill="#fff" />
<g fill="#000" stroke="none">
<text id="title" transform="translate(655,105.7) scale(0.977,1)" x="0" y="0" style="font-size:78px">F<tspan style="font-size:55px">RICTION </tspan>W<tspan style="font-size:55px">HEEL AND </tspan>A<tspan style="font-size:55px">DJUSTERS</tspan></text>
<text id="sub" transform="translate(45,205.8) scale(0.979,1)" x="0" y="0" style="font-size:47.5px">Model <tspan style="font-size:42px">580 RS, 580 RSE, 580 RSW, 600 C</tspan></text>
</g>
<rect x="44" y="133" width="2054" height="5" fill="#000" stroke="none"/>
<g>
<text transform="translate(895.3,289.9) scale(0.95,1)" fill="#000">10</text>
<text transform="translate(1614.7,334.6) scale(0.95,1)" fill="#000">5</text>
<text transform="translate(1478.0,381.4) scale(0.95,1)" fill="#000">6</text>
<text transform="translate(1445.2,441.5) scale(0.95,1)" fill="#000">7</text>
<text transform="translate(1338.7,478.5) scale(0.95,1)" fill="#000">8</text>
<text transform="translate(1332.1,547.0) scale(0.95,1)" fill="#000">9</text>
<text transform="translate(1986.6,411.7) scale(0.95,1)" fill="#000">2</text>
<text transform="translate(1900.1,500.7) scale(0.95,1)" fill="#000">3</text>
<text transform="translate(1816.2,586.3) scale(0.95,1)" fill="#000">1</text>
<text transform="translate(1704.4,622.0) scale(0.95,1)" fill="#000">4</text>
<text transform="translate(1534.4,661.6) scale(0.95,1)" fill="#000">4</text>
<text transform="translate(1081.5,530.8) scale(0.95,1)" fill="#000">53</text>
<text transform="translate(1259.6,528.8) scale(0.95,1)" fill="#000">2</text>
<text transform="translate(977.4,642.0) scale(0.95,1)" fill="#000">11</text>
<text transform="translate(1530.2,758.0) scale(0.95,1)" fill="#000">12</text>
<text transform="translate(1415.0,815.0) scale(0.95,1)" fill="#000">13</text>
<text transform="translate(1305.4,894.8) scale(0.95,1)" fill="#000">14</text>
<text transform="translate(647.5,507.9) scale(0.95,1)" fill="#000">54</text>
<text transform="translate(725.7,838.7) scale(0.95,1)" fill="#000">15</text>
<text transform="translate(1126.0,985.6) scale(0.95,1)" fill="#000">16</text>
<text transform="translate(1229.4,965.6) scale(0.95,1)" fill="#000">53</text>
<text transform="translate(625.7,964.3) scale(0.95,1)" fill="#000">50</text>
<text transform="translate(1621.6,1112.5) scale(0.95,1)" fill="#000">18</text>
<text transform="translate(1613.0,1186.0) scale(0.95,1)" fill="#000">19</text>
<text transform="translate(1649.0,1262.9) scale(0.95,1)" fill="#000">17</text>
<text transform="translate(1322.0,1268.8) scale(0.95,1)" fill="#000">22</text>
<text transform="translate(1109.1,1180.9) scale(0.95,1)" fill="#000">26</text>
<text transform="translate(1268.1,1331.2) scale(0.95,1)" fill="#000">13</text>
<text transform="translate(1560.3,1452.3) scale(0.95,1)" fill="#000">20</text>
<text transform="translate(1333.0,1461.0) scale(0.95,1)" fill="#000">23</text>
<text transform="translate(1232.2,1491.4) scale(0.95,1)" fill="#000">25</text>
<text transform="translate(1139.2,1579.3) scale(0.95,1)" fill="#000">24</text>
<text transform="translate(754.4,1054.2) scale(0.95,1)" fill="#000">51</text>
<text transform="translate(951.4,1156.8) scale(0.95,1)" fill="#000">52</text>
<text transform="translate(854.0,1193.5) scale(0.95,1)" fill="#000">21</text>
<text transform="translate(717.6,1270.3) scale(0.95,1)" fill="#000">29</text>
<text transform="translate(826.6,1395.8) scale(0.95,1)" fill="#000">3</text>
<text transform="translate(1017.6,1482.3) scale(0.95,1)" fill="#000">27</text>
<text transform="translate(889.6,1539.4) scale(0.95,1)" fill="#000">28</text>
<text transform="translate(795.3,1589.3) scale(0.95,1)" fill="#000">31</text>
<text transform="translate(273.3,1162.9) scale(0.95,1)" fill="#000">44</text>
<text transform="translate(393.4,1145.6) scale(0.95,1)" fill="#000">45</text>
<text transform="translate(459.8,1102.0) scale(0.95,1)" fill="#000">47</text>
<text transform="translate(544.1,1102.0) scale(0.95,1)" fill="#000">48</text>
<text transform="translate(618.4,1050.2) scale(0.95,1)" fill="#000">49</text>
<text transform="translate(258.9,1343.2) scale(0.95,1)" fill="#000">46</text>
<text transform="translate(626.2,1371.0) scale(0.95,1)" fill="#000">43</text>
<text transform="translate(249.6,1480.5) scale(0.95,1)" fill="#000">33</text>
<text transform="translate(423.5,1460.2) scale(0.95,1)" fill="#000">32</text>
<text transform="translate(358.7,1522.3) scale(0.95,1)" fill="#000">56</text>
<text transform="translate(257.1,1572.3) scale(0.95,1)" fill="#000">55</text>
<text transform="translate(655.9,1694.2) scale(0.95,1)" fill="#000">34</text>
<text transform="translate(808.1,1699.3) scale(0.95,1)" fill="#000">30</text>
<text transform="translate(667.6,1763.0) scale(0.95,1)" fill="#000">35</text>
<text transform="translate(687.1,1831.0) scale(0.95,1)" fill="#000">36</text>
<text transform="translate(770.5,1931.4) scale(0.95,1)" fill="#000">37</text>
<text transform="translate(643.1,1972.0) scale(0.95,1)" fill="#000">38</text>
<text transform="translate(634.1,2027.8) scale(0.95,1)" fill="#000">39</text>
<text transform="translate(640.9,2080.5) scale(0.95,1)" fill="#000">38</text>
<text transform="translate(617.1,2128.7) scale(0.95,1)" fill="#000">40</text>
<text transform="translate(676.4,2204.0) scale(0.95,1)" fill="#000">41</text>
<text transform="translate(337.4,2285.4) scale(0.95,1)" fill="#000">51</text>
<text transform="translate(665.4,2295.4) scale(0.95,1)" fill="#000">42</text>
</g>
<g>
<line x1="941.0" y1="293.4" x2="1054.7" y2="293.4" stroke-width="4.5"/>
<line x1="1633.0" y1="339.0" x2="1647.3" y2="426.0" stroke-width="4.5"/>
<line x1="1502.6" y1="381.4" x2="1544.0" y2="446.0" stroke-width="4.5"/>
<line x1="1467.0" y1="447.3" x2="1493.7" y2="509.7" stroke-width="4.5"/>
<line x1="1364.6" y1="483.8" x2="1409.0" y2="555.0" stroke-width="4.5"/>
<line x1="1640.7" y1="506.0" x2="1689.7" y2="595.0" stroke-width="4.5"/>
<line x1="1774.0" y1="483.8" x2="1821.0" y2="557.3" stroke-width="4.5"/>
<line x1="1887.0" y1="348.0" x2="1972.4" y2="399.2" stroke-width="4.5"/>
<line x1="1879.0" y1="406.0" x2="1903.4" y2="472.7" stroke-width="4.5"/>
<line x1="1489.0" y1="593.0" x2="1509.0" y2="633.0" stroke-width="4.5"/>
<line x1="1125.8" y1="539.4" x2="1178.0" y2="586.0" stroke-width="4.5"/>
<line x1="1281.0" y1="536.6" x2="1323.8" y2="576.9" stroke-width="4.5"/>
<line x1="1339.5" y1="571.8" x2="1356.0" y2="618.7" stroke-width="4.5"/>
<polyline points="1243.8,629.6 1011.3,653.0 939.0,784.7" stroke-width="4.5" fill="none"/>
<line x1="1443.0" y1="686.0" x2="1529.0" y2="726.9" stroke-width="4.5"/>
<polyline points="1364.8,742.5 1409.8,772.0 1396.0,719.0" stroke-width="4.5" fill="none"/>
<line x1="1246.9" y1="807.3" x2="1300.4" y2="862.0" stroke-width="4.5"/>
<line x1="669.5" y1="516.8" x2="731.5" y2="587.4" stroke-width="4.5"/>
<line x1="776.0" y1="811.0" x2="812.0" y2="778.3" stroke-width="4.5"/>
<line x1="1033.0" y1="971.6" x2="1123.5" y2="974.0" stroke-width="4.5"/>
<line x1="1162.0" y1="905.3" x2="1210.6" y2="947.0" stroke-width="4.5"/>
<line x1="1522.7" y1="1135.2" x2="1626.0" y2="1104.7" stroke-width="4.5"/>
<line x1="1525.8" y1="1186.7" x2="1620.3" y2="1174.2" stroke-width="4.5"/>
<line x1="1549.2" y1="1253.9" x2="1657.4" y2="1253.9" stroke-width="4.5"/>
<line x1="1251.2" y1="1228.9" x2="1319.5" y2="1239.5" stroke-width="4.5"/>
<line x1="1131.2" y1="1189.8" x2="1096.0" y2="1276.6" stroke-width="4.5"/>
<polyline points="1204.3,1285.2 1257.0,1314.8 1163.3,1311.0" stroke-width="4.5" fill="none"/>
<line x1="1512.9" y1="1351.6" x2="1563.7" y2="1425.0" stroke-width="4.5"/>
<line x1="1236.7" y1="1407.4" x2="1334.4" y2="1432.8" stroke-width="4.5"/>
<line x1="1152.3" y1="1416.4" x2="1236.7" y2="1458.2" stroke-width="4.5"/>
<line x1="1134.0" y1="1462.0" x2="1145.7" y2="1546.0" stroke-width="4.5"/>
<line x1="798.2" y1="1058.6" x2="826.0" y2="1118.7" stroke-width="4.5"/>
<line x1="886.2" y1="1099.7" x2="946.3" y2="1137.8" stroke-width="4.5"/>
<line x1="894.0" y1="1203.2" x2="920.5" y2="1233.0" stroke-width="4.5"/>
<polyline points="913.4,1296.0 764.0,1274.1 779.7,1347.4" stroke-width="4.5" fill="none"/>
<line x1="861.8" y1="1377.6" x2="919.3" y2="1358.3" stroke-width="4.5"/>
<line x1="1022.5" y1="1365.0" x2="1032.7" y2="1451.5" stroke-width="4.5"/>
<line x1="852.4" y1="1472.0" x2="902.3" y2="1521.8" stroke-width="4.5"/>
<line x1="292.0" y1="1178.0" x2="329.8" y2="1264.5" stroke-width="4.5"/>
<line x1="403.1" y1="1159.0" x2="440.3" y2="1233.7" stroke-width="4.5"/>
<line x1="483.5" y1="1106.5" x2="502.9" y2="1172.4" stroke-width="4.5"/>
<line x1="572.2" y1="1111.2" x2="598.3" y2="1158.0" stroke-width="4.5"/>
<line x1="648.5" y1="1053.6" x2="678.7" y2="1135.6" stroke-width="4.5"/>
<line x1="672.0" y1="988.0" x2="717.2" y2="1093.7" stroke-width="4.5"/>
<line x1="299.6" y1="1356.6" x2="327.1" y2="1400.0" stroke-width="4.5"/>
<line x1="541.4" y1="1326.4" x2="623.4" y2="1354.9" stroke-width="4.5"/>
<polyline points="283.8,1689.5 209.5,1570.4 396.2,1462.2 474.4,1576.2" stroke-width="4.5" fill="none"/>
<line x1="309.0" y1="1507.9" x2="292.3" y2="1485.6" stroke-width="4.5"/>
<line x1="444.0" y1="1465.0" x2="515.0" y2="1535.2" stroke-width="4.5"/>
<line x1="404.0" y1="1524.7" x2="428.3" y2="1558.7" stroke-width="4.5"/>
<line x1="295.5" y1="1588.8" x2="317.0" y2="1627.8" stroke-width="4.5"/>
<line x1="674.4" y1="1474.7" x2="795.5" y2="1558.7" stroke-width="4.5"/>
<polyline points="697.8,1563.8 787.7,1688.8 688.0,1620.0" stroke-width="4.5" fill="none"/>
<line x1="547.4" y1="1704.4" x2="654.8" y2="1682.5" stroke-width="4.5"/>
<line x1="553.3" y1="1738.4" x2="672.4" y2="1752.0" stroke-width="4.5"/>
<line x1="544.7" y1="1773.5" x2="690.0" y2="1822.3" stroke-width="4.5"/>
<line x1="637.0" y1="1891.6" x2="759.4" y2="1919.3" stroke-width="4.5"/>
<line x1="549.0" y1="1960.0" x2="636.4" y2="1951.9" stroke-width="4.5"/>
<line x1="550.5" y1="2018.0" x2="630.4" y2="2015.1" stroke-width="4.5"/>
<line x1="546.6" y1="2055.5" x2="636.4" y2="2074.5" stroke-width="4.5"/>
<line x1="536.4" y1="2100.0" x2="615.3" y2="2110.7" stroke-width="4.5"/>
<line x1="579.8" y1="2187.0" x2="670.2" y2="2190.5" stroke-width="4.5"/>
<line x1="385.7" y1="2258.3" x2="454.0" y2="2225.2" stroke-width="4.5"/>
<line x1="543.6" y1="2319.5" x2="651.5" y2="2291.5" stroke-width="4.5"/>
</g>
<defs><mask id="wm" maskUnits="userSpaceOnUse" x="0" y="0" width="2098" height="2397">
<path d="M560.8,812.0 Q572.0,793.0 594.0,793.0 L668.0,793.0 Q690.0,793.0 701.4,811.8 L746.6,886.2 Q758.0,905.0 747.5,924.3 L706.5,999.7 Q696.0,1019.0 674.0,1019.0 L600.0,1019.0 Q578.0,1019.0 566.3,1000.4 L517.7,923.6 Q506.0,905.0 517.2,886.0 Z" fill="#fff"/>
<g stroke="#000" stroke-width="22" stroke-linecap="round" fill="none">
<path d="M590.6,842.4 L630.8,882 M662.9,848.5 L630.8,882 M652.8,908.7 L707.1,908.7 M556.4,906.7 L592,985 M600,975 L673,975 M585,1000 L570,1025"/>
</g>
<text transform="translate(779,1075) rotate(33)" font-family="Liberation Sans" font-weight="bold" style="font-size:330px" fill="#fff" stroke="none" letter-spacing="0">stock</text>
<text transform="translate(1185,1420) rotate(33)" font-family="Liberation Sans" style="font-size:70px;font-weight:normal" fill="#fff" stroke="none" letter-spacing="14">GARDEN</text>
</mask></defs>
<rect x="0" y="0" width="2098" height="2397" fill="#d7d7d7" fill-opacity="0.3" stroke="none" mask="url(#wm)"/>
</svg>
</body></html>
